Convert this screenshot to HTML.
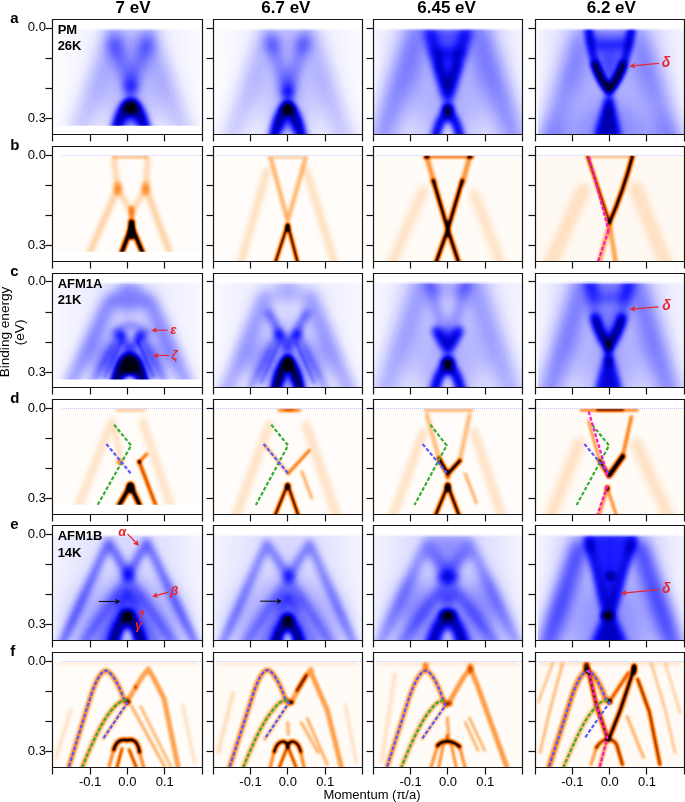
<!DOCTYPE html>
<html><head><meta charset="utf-8"><style>
html,body{margin:0;padding:0;background:#fff;width:685px;height:802px;overflow:hidden}
svg{display:block}
text{font-family:"Liberation Sans",sans-serif}
</style></head><body>
<svg xmlns="http://www.w3.org/2000/svg" width="685" height="802" viewBox="0 0 685 802">
<defs>
<filter id="cmB" x="-200" y="-200" width="600" height="600" filterUnits="userSpaceOnUse" color-interpolation-filters="sRGB">
<feComponentTransfer><feFuncR type="table" tableValues="1 0.93 0.82 0.67 0.49 0.29 0.1 0 0 0 0"/><feFuncG type="table" tableValues="1 0.93 0.82 0.67 0.49 0.29 0.1 0 0 0 0"/><feFuncB type="table" tableValues="1 1 1 1 1 1 1 0.8 0.5 0.15 0"/></feComponentTransfer></filter>
<filter id="cmO" x="-200" y="-200" width="600" height="600" filterUnits="userSpaceOnUse" color-interpolation-filters="sRGB">
<feComponentTransfer><feFuncR type="table" tableValues="1 1 1 1 1 0.99 0.93 0.8 0.55 0.25 0"/><feFuncG type="table" tableValues="1 0.9 0.8 0.7 0.6 0.52 0.42 0.32 0.2 0.08 0"/><feFuncB type="table" tableValues="1 0.8 0.6 0.42 0.26 0.14 0.05 0 0 0 0"/></feComponentTransfer></filter>
<linearGradient id="g1" x1="0" y1="0" x2="1" y2="0"><stop offset="0" stop-color="#fff" stop-opacity="0"/><stop offset="0.2" stop-color="#fff" stop-opacity="0.05"/><stop offset="0.4" stop-color="#fff" stop-opacity="0.12"/><stop offset="0.52" stop-color="#fff" stop-opacity="0.15"/><stop offset="0.65" stop-color="#fff" stop-opacity="0.12"/><stop offset="0.85" stop-color="#fff" stop-opacity="0.05"/><stop offset="1" stop-color="#fff" stop-opacity="0.02"/></linearGradient>
<filter id="b12" x="-200" y="-200" width="600" height="600" filterUnits="userSpaceOnUse"><feGaussianBlur stdDeviation="12"/></filter>
<filter id="b8" x="-200" y="-200" width="600" height="600" filterUnits="userSpaceOnUse"><feGaussianBlur stdDeviation="8"/></filter>
<filter id="b9" x="-200" y="-200" width="600" height="600" filterUnits="userSpaceOnUse"><feGaussianBlur stdDeviation="9"/></filter>
<filter id="b6" x="-200" y="-200" width="600" height="600" filterUnits="userSpaceOnUse"><feGaussianBlur stdDeviation="6"/></filter>
<filter id="b4" x="-200" y="-200" width="600" height="600" filterUnits="userSpaceOnUse"><feGaussianBlur stdDeviation="4"/></filter>
<filter id="b3" x="-200" y="-200" width="600" height="600" filterUnits="userSpaceOnUse"><feGaussianBlur stdDeviation="3"/></filter>
<filter id="b2_5" x="-200" y="-200" width="600" height="600" filterUnits="userSpaceOnUse"><feGaussianBlur stdDeviation="2.5"/></filter>
<clipPath id="c1"><rect x="1" y="8.6" width="146.3" height="97.7"/></clipPath>
<linearGradient id="g2" x1="0" y1="0" x2="0" y2="1"><stop offset="0" stop-color="#fff" stop-opacity="1"/><stop offset="1" stop-color="#fff" stop-opacity="0"/></linearGradient>
<linearGradient id="g3" x1="0" y1="0" x2="1" y2="0"><stop offset="0" stop-color="#fff" stop-opacity="0"/><stop offset="0.2" stop-color="#fff" stop-opacity="0.05"/><stop offset="0.4" stop-color="#fff" stop-opacity="0.12"/><stop offset="0.5" stop-color="#fff" stop-opacity="0.15"/><stop offset="0.62" stop-color="#fff" stop-opacity="0.12"/><stop offset="0.85" stop-color="#fff" stop-opacity="0.05"/><stop offset="1" stop-color="#fff" stop-opacity="0.02"/></linearGradient>
<filter id="b5_5" x="-200" y="-200" width="600" height="600" filterUnits="userSpaceOnUse"><feGaussianBlur stdDeviation="5.5"/></filter>
<filter id="b3_5" x="-200" y="-200" width="600" height="600" filterUnits="userSpaceOnUse"><feGaussianBlur stdDeviation="3.5"/></filter>
<clipPath id="c2"><rect x="0.5" y="8.6" width="148.5" height="106.1"/></clipPath>
<linearGradient id="g4" x1="0" y1="0" x2="0" y2="1"><stop offset="0" stop-color="#fff" stop-opacity="1"/><stop offset="1" stop-color="#fff" stop-opacity="0"/></linearGradient>
<linearGradient id="g5" x1="0" y1="0" x2="1" y2="0"><stop offset="0" stop-color="#fff" stop-opacity="0.03"/><stop offset="0.1" stop-color="#fff" stop-opacity="0.1"/><stop offset="0.3" stop-color="#fff" stop-opacity="0.18"/><stop offset="0.5" stop-color="#fff" stop-opacity="0.2"/><stop offset="0.7" stop-color="#fff" stop-opacity="0.18"/><stop offset="0.9" stop-color="#fff" stop-opacity="0.1"/><stop offset="1" stop-color="#fff" stop-opacity="0.04"/></linearGradient>
<filter id="b4_5" x="-200" y="-200" width="600" height="600" filterUnits="userSpaceOnUse"><feGaussianBlur stdDeviation="4.5"/></filter>
<clipPath id="c3"><rect x="0.5" y="8.6" width="148.5" height="106.1"/></clipPath>
<linearGradient id="g6" x1="0" y1="0" x2="0" y2="1"><stop offset="0" stop-color="#fff" stop-opacity="1"/><stop offset="1" stop-color="#fff" stop-opacity="0"/></linearGradient>
<linearGradient id="g7" x1="0" y1="0" x2="1" y2="0"><stop offset="0" stop-color="#fff" stop-opacity="0.02"/><stop offset="0.1" stop-color="#fff" stop-opacity="0.1"/><stop offset="0.3" stop-color="#fff" stop-opacity="0.18"/><stop offset="0.5" stop-color="#fff" stop-opacity="0.2"/><stop offset="0.7" stop-color="#fff" stop-opacity="0.18"/><stop offset="0.9" stop-color="#fff" stop-opacity="0.1"/><stop offset="1" stop-color="#fff" stop-opacity="0.04"/></linearGradient>
<clipPath id="c4"><rect x="2.6" y="8.6" width="146.4" height="106.1"/></clipPath>
<linearGradient id="g8" x1="0" y1="0" x2="0" y2="1"><stop offset="0" stop-color="#fff" stop-opacity="1"/><stop offset="1" stop-color="#fff" stop-opacity="0"/></linearGradient>
<linearGradient id="g9" x1="0" y1="0" x2="1" y2="0"><stop offset="0" stop-color="#fff" stop-opacity="0.02"/><stop offset="0.2" stop-color="#fff" stop-opacity="0.08"/><stop offset="0.5" stop-color="#fff" stop-opacity="0.16"/><stop offset="0.8" stop-color="#fff" stop-opacity="0.08"/><stop offset="1" stop-color="#fff" stop-opacity="0.03"/></linearGradient>
<filter id="b1_5" x="-200" y="-200" width="600" height="600" filterUnits="userSpaceOnUse"><feGaussianBlur stdDeviation="1.5"/></filter>
<filter id="b2" x="-200" y="-200" width="600" height="600" filterUnits="userSpaceOnUse"><feGaussianBlur stdDeviation="2"/></filter>
<clipPath id="c5"><rect x="1" y="8.6" width="146.3" height="97.7"/></clipPath>
<linearGradient id="g10" x1="0" y1="0" x2="0" y2="1"><stop offset="0" stop-color="#fff" stop-opacity="1"/><stop offset="1" stop-color="#fff" stop-opacity="0"/></linearGradient>
<linearGradient id="g11" x1="0" y1="0" x2="1" y2="0"><stop offset="0" stop-color="#fff" stop-opacity="0.02"/><stop offset="0.2" stop-color="#fff" stop-opacity="0.08"/><stop offset="0.5" stop-color="#fff" stop-opacity="0.15"/><stop offset="0.8" stop-color="#fff" stop-opacity="0.08"/><stop offset="1" stop-color="#fff" stop-opacity="0.03"/></linearGradient>
<clipPath id="c6"><rect x="0.5" y="8.6" width="148.5" height="106.1"/></clipPath>
<linearGradient id="g12" x1="0" y1="0" x2="0" y2="1"><stop offset="0" stop-color="#fff" stop-opacity="1"/><stop offset="1" stop-color="#fff" stop-opacity="0"/></linearGradient>
<linearGradient id="g13" x1="0" y1="0" x2="1" y2="0"><stop offset="0" stop-color="#fff" stop-opacity="0.03"/><stop offset="0.15" stop-color="#fff" stop-opacity="0.1"/><stop offset="0.35" stop-color="#fff" stop-opacity="0.17"/><stop offset="0.5" stop-color="#fff" stop-opacity="0.2"/><stop offset="0.65" stop-color="#fff" stop-opacity="0.17"/><stop offset="0.85" stop-color="#fff" stop-opacity="0.1"/><stop offset="1" stop-color="#fff" stop-opacity="0.04"/></linearGradient>
<filter id="b5" x="-200" y="-200" width="600" height="600" filterUnits="userSpaceOnUse"><feGaussianBlur stdDeviation="5"/></filter>
<clipPath id="c7"><rect x="0.5" y="8.6" width="148.5" height="106.1"/></clipPath>
<linearGradient id="g14" x1="0" y1="0" x2="0" y2="1"><stop offset="0" stop-color="#fff" stop-opacity="1"/><stop offset="1" stop-color="#fff" stop-opacity="0"/></linearGradient>
<linearGradient id="g15" x1="0" y1="0" x2="1" y2="0"><stop offset="0" stop-color="#fff" stop-opacity="0.03"/><stop offset="0.15" stop-color="#fff" stop-opacity="0.12"/><stop offset="0.35" stop-color="#fff" stop-opacity="0.18"/><stop offset="0.5" stop-color="#fff" stop-opacity="0.22"/><stop offset="0.65" stop-color="#fff" stop-opacity="0.18"/><stop offset="0.85" stop-color="#fff" stop-opacity="0.12"/><stop offset="1" stop-color="#fff" stop-opacity="0.05"/></linearGradient>
<clipPath id="c8"><rect x="2.6" y="8.6" width="146.4" height="106.1"/></clipPath>
<linearGradient id="g16" x1="0" y1="0" x2="0" y2="1"><stop offset="0" stop-color="#fff" stop-opacity="1"/><stop offset="1" stop-color="#fff" stop-opacity="0"/></linearGradient>
<linearGradient id="g17" x1="0" y1="0" x2="1" y2="0"><stop offset="0" stop-color="#fff" stop-opacity="0.06"/><stop offset="0.2" stop-color="#fff" stop-opacity="0.12"/><stop offset="0.5" stop-color="#fff" stop-opacity="0.18"/><stop offset="0.8" stop-color="#fff" stop-opacity="0.12"/><stop offset="1" stop-color="#fff" stop-opacity="0.04"/></linearGradient>
<filter id="b15" x="-200" y="-200" width="600" height="600" filterUnits="userSpaceOnUse"><feGaussianBlur stdDeviation="15"/></filter>
<clipPath id="c9"><rect x="0.5" y="8.6" width="148.5" height="106.1"/></clipPath>
<linearGradient id="g18" x1="0" y1="0" x2="0" y2="1"><stop offset="0" stop-color="#fff" stop-opacity="1"/><stop offset="1" stop-color="#fff" stop-opacity="0"/></linearGradient>
<linearGradient id="g19" x1="0" y1="0" x2="1" y2="0"><stop offset="0" stop-color="#fff" stop-opacity="0.06"/><stop offset="0.2" stop-color="#fff" stop-opacity="0.12"/><stop offset="0.5" stop-color="#fff" stop-opacity="0.18"/><stop offset="0.8" stop-color="#fff" stop-opacity="0.12"/><stop offset="1" stop-color="#fff" stop-opacity="0.04"/></linearGradient>
<clipPath id="c10"><rect x="0.5" y="8.6" width="148.5" height="106.1"/></clipPath>
<linearGradient id="g20" x1="0" y1="0" x2="0" y2="1"><stop offset="0" stop-color="#fff" stop-opacity="1"/><stop offset="1" stop-color="#fff" stop-opacity="0"/></linearGradient>
<linearGradient id="g21" x1="0" y1="0" x2="1" y2="0"><stop offset="0" stop-color="#fff" stop-opacity="0.06"/><stop offset="0.2" stop-color="#fff" stop-opacity="0.13"/><stop offset="0.5" stop-color="#fff" stop-opacity="0.2"/><stop offset="0.8" stop-color="#fff" stop-opacity="0.13"/><stop offset="1" stop-color="#fff" stop-opacity="0.05"/></linearGradient>
<clipPath id="c11"><rect x="0.5" y="8.6" width="148.5" height="106.1"/></clipPath>
<linearGradient id="g22" x1="0" y1="0" x2="0" y2="1"><stop offset="0" stop-color="#fff" stop-opacity="1"/><stop offset="1" stop-color="#fff" stop-opacity="0"/></linearGradient>
<linearGradient id="g23" x1="0" y1="0" x2="1" y2="0"><stop offset="0" stop-color="#fff" stop-opacity="0.04"/><stop offset="0.15" stop-color="#fff" stop-opacity="0.13"/><stop offset="0.35" stop-color="#fff" stop-opacity="0.22"/><stop offset="0.5" stop-color="#fff" stop-opacity="0.27"/><stop offset="0.65" stop-color="#fff" stop-opacity="0.22"/><stop offset="0.85" stop-color="#fff" stop-opacity="0.13"/><stop offset="1" stop-color="#fff" stop-opacity="0.05"/></linearGradient>
<filter id="b7" x="-200" y="-200" width="600" height="600" filterUnits="userSpaceOnUse"><feGaussianBlur stdDeviation="7"/></filter>
<clipPath id="c12"><rect x="2.6" y="8.6" width="146.4" height="106.1"/></clipPath>
<linearGradient id="g24" x1="0" y1="0" x2="0" y2="1"><stop offset="0" stop-color="#fff" stop-opacity="1"/><stop offset="1" stop-color="#fff" stop-opacity="0"/></linearGradient>
<filter id="b1_3" x="-200" y="-200" width="600" height="600" filterUnits="userSpaceOnUse"><feGaussianBlur stdDeviation="1.3"/></filter>
<filter id="b1" x="-200" y="-200" width="600" height="600" filterUnits="userSpaceOnUse"><feGaussianBlur stdDeviation="1"/></filter>
<filter id="b1_2" x="-200" y="-200" width="600" height="600" filterUnits="userSpaceOnUse"><feGaussianBlur stdDeviation="1.2"/></filter>
<clipPath id="c13"><rect x="1" y="9" width="146.3" height="96.2"/></clipPath>
<filter id="b1_6" x="-200" y="-200" width="600" height="600" filterUnits="userSpaceOnUse"><feGaussianBlur stdDeviation="1.6"/></filter>
<filter id="b0_8" x="-200" y="-200" width="600" height="600" filterUnits="userSpaceOnUse"><feGaussianBlur stdDeviation="0.8"/></filter>
<clipPath id="c14"><rect x="0.5" y="9" width="148.5" height="105.7"/></clipPath>
<clipPath id="c15"><rect x="0.5" y="9" width="148.5" height="105.7"/></clipPath>
<clipPath id="c16"><rect x="0.5" y="9" width="148.5" height="105.7"/></clipPath>
<clipPath id="c17"><rect x="1" y="9" width="146.3" height="96.2"/></clipPath>
<clipPath id="c18"><rect x="0.5" y="9" width="148.5" height="105.7"/></clipPath>
<clipPath id="c19"><rect x="0.5" y="9" width="148.5" height="105.7"/></clipPath>
<clipPath id="c20"><rect x="0.5" y="9" width="148.5" height="105.7"/></clipPath>
<clipPath id="c21"><rect x="0.5" y="9" width="148.5" height="105.7"/></clipPath>
<clipPath id="c22"><rect x="0.5" y="9" width="148.5" height="105.7"/></clipPath>
<clipPath id="c23"><rect x="0.5" y="9" width="148.5" height="105.7"/></clipPath>
<filter id="b1_1" x="-200" y="-200" width="600" height="600" filterUnits="userSpaceOnUse"><feGaussianBlur stdDeviation="1.1"/></filter>
<clipPath id="c24"><rect x="0.5" y="9" width="148.5" height="105.7"/></clipPath>
</defs>
<rect width="685" height="802" fill="#fff"/>
<g transform="translate(52.75,19.36)"><g clip-path="url(#c1)"><g filter="url(#cmB)"><rect x="-20" y="-20" width="190" height="160" fill="#000"/><rect x="-5" y="0" width="160" height="130" fill="url(#g1)"/><ellipse cx="78" cy="75" rx="32" ry="40" fill="#fff" fill-opacity="0.15" filter="url(#b12)"/><path d="M61,16 L25,112" fill="none" stroke="#fff" stroke-width="22" stroke-opacity="0.2" stroke-linecap="round" stroke-linejoin="round" filter="url(#b8)"/><path d="M95,16 L131,112" fill="none" stroke="#fff" stroke-width="22" stroke-opacity="0.2" stroke-linecap="round" stroke-linejoin="round" filter="url(#b8)"/><ellipse cx="77" cy="28" rx="20" ry="18" fill="#fff" fill-opacity="0.14" filter="url(#b9)"/><path d="M62,26 L78,67" fill="none" stroke="#fff" stroke-width="13" stroke-opacity="0.24" stroke-linecap="round" stroke-linejoin="round" filter="url(#b6)"/><path d="M94,26 L78,67" fill="none" stroke="#fff" stroke-width="13" stroke-opacity="0.24" stroke-linecap="round" stroke-linejoin="round" filter="url(#b6)"/><path d="M59,12 L62,26" fill="none" stroke="#fff" stroke-width="12" stroke-opacity="0.12" stroke-linecap="round" stroke-linejoin="round" filter="url(#b6)"/><path d="M97,12 L94,26" fill="none" stroke="#fff" stroke-width="12" stroke-opacity="0.12" stroke-linecap="round" stroke-linejoin="round" filter="url(#b6)"/><ellipse cx="78" cy="70" rx="5" ry="9" fill="#fff" fill-opacity="0.3" filter="url(#b4)"/><path d="M63,111 Q78,58 93,111" fill="none" stroke="#fff" stroke-width="11" stroke-opacity="0.66" stroke-linecap="round" stroke-linejoin="round" filter="url(#b3)"/><ellipse cx="78" cy="100" rx="10" ry="10" fill="#fff" fill-opacity="0.35" filter="url(#b4)"/><ellipse cx="78" cy="89" rx="7" ry="7" fill="#fff" fill-opacity="1" filter="url(#b3)"/><ellipse cx="78" cy="106" rx="3" ry="4" fill="#000" fill-opacity="0.22" filter="url(#b2_5)"/></g></g><rect x="1" y="8.6" width="146.3" height="3" fill="url(#g2)"/></g>
<g transform="translate(213.2,19.36)"><g clip-path="url(#c2)"><g filter="url(#cmB)"><rect x="-20" y="-20" width="190" height="160" fill="#000"/><rect x="-5" y="0" width="160" height="130" fill="url(#g3)"/><ellipse cx="75" cy="78" rx="32" ry="40" fill="#fff" fill-opacity="0.14" filter="url(#b12)"/><path d="M53,18 L17,120" fill="none" stroke="#fff" stroke-width="22" stroke-opacity="0.2" stroke-linecap="round" stroke-linejoin="round" filter="url(#b8)"/><path d="M97,18 L132,120" fill="none" stroke="#fff" stroke-width="22" stroke-opacity="0.2" stroke-linecap="round" stroke-linejoin="round" filter="url(#b8)"/><ellipse cx="75" cy="22" rx="20" ry="16" fill="#fff" fill-opacity="0.14" filter="url(#b8)"/><path d="M59,25 L74.5,74" fill="none" stroke="#fff" stroke-width="12" stroke-opacity="0.26" stroke-linecap="round" stroke-linejoin="round" filter="url(#b5_5)"/><path d="M90,25 L74.5,74" fill="none" stroke="#fff" stroke-width="12" stroke-opacity="0.26" stroke-linecap="round" stroke-linejoin="round" filter="url(#b5_5)"/><path d="M56,12 L59,25" fill="none" stroke="#fff" stroke-width="11" stroke-opacity="0.14" stroke-linecap="round" stroke-linejoin="round" filter="url(#b6)"/><path d="M93,12 L90,25" fill="none" stroke="#fff" stroke-width="11" stroke-opacity="0.14" stroke-linecap="round" stroke-linejoin="round" filter="url(#b6)"/><ellipse cx="74.5" cy="74" rx="5" ry="8" fill="#fff" fill-opacity="0.3" filter="url(#b3_5)"/><path d="M60.5,118 Q74.5,60 88.5,118" fill="none" stroke="#fff" stroke-width="11" stroke-opacity="0.68" stroke-linecap="round" stroke-linejoin="round" filter="url(#b3)"/><ellipse cx="74.5" cy="105" rx="10" ry="10" fill="#fff" fill-opacity="0.32" filter="url(#b4)"/><ellipse cx="74.5" cy="89.5" rx="6" ry="7" fill="#fff" fill-opacity="1" filter="url(#b3)"/><ellipse cx="74.5" cy="112" rx="3" ry="6" fill="#000" fill-opacity="0.25" filter="url(#b2_5)"/></g></g><rect x="0.5" y="8.6" width="148.5" height="3" fill="url(#g4)"/></g>
<g transform="translate(373.3,19.36)"><g clip-path="url(#c3)"><g filter="url(#cmB)"><rect x="-20" y="-20" width="190" height="160" fill="#000"/><rect x="-5" y="0" width="160" height="130" fill="url(#g5)"/><path d="M44,12 L6,122" fill="none" stroke="#fff" stroke-width="26" stroke-opacity="0.3" stroke-linecap="round" stroke-linejoin="round" filter="url(#b9)"/><path d="M105,12 L143,122" fill="none" stroke="#fff" stroke-width="26" stroke-opacity="0.3" stroke-linecap="round" stroke-linejoin="round" filter="url(#b9)"/><ellipse cx="75" cy="70" rx="40" ry="45" fill="#fff" fill-opacity="0.12" filter="url(#b12)"/><path d="M50,8 L100,8 L92,40 L57,40 Z" fill="#fff" fill-opacity="0.35" filter="url(#b4_5)"/><path d="M57,30 L92,30 L74.5,75 Z" fill="#fff" fill-opacity="0.3" filter="url(#b4_5)"/><path d="M57,14 L74.5,78 L92,14" fill="none" stroke="#fff" stroke-width="9" stroke-opacity="0.35" stroke-linecap="round" stroke-linejoin="round" filter="url(#b4)"/><path d="M64,45 L74.5,78 L85,45" fill="none" stroke="#fff" stroke-width="9" stroke-opacity="0.4" stroke-linecap="round" stroke-linejoin="round" filter="url(#b3_5)"/><ellipse cx="74.5" cy="90" rx="5" ry="6" fill="#fff" fill-opacity="1" filter="url(#b3)"/><path d="M61,122 Q74.5,68 88,122" fill="none" stroke="#fff" stroke-width="9" stroke-opacity="0.62" stroke-linecap="round" stroke-linejoin="round" filter="url(#b3)"/><ellipse cx="74.5" cy="113" rx="4" ry="8" fill="#000" fill-opacity="0.3" filter="url(#b3)"/></g></g><rect x="0.5" y="8.6" width="148.5" height="3" fill="url(#g6)"/></g>
<g transform="translate(535.06,19.36)"><g clip-path="url(#c4)"><g filter="url(#cmB)"><rect x="-20" y="-20" width="190" height="160" fill="#000"/><rect x="-5" y="0" width="160" height="130" fill="url(#g7)"/><ellipse cx="75" cy="70" rx="40" ry="45" fill="#fff" fill-opacity="0.12" filter="url(#b12)"/><path d="M46,18 L12,122" fill="none" stroke="#fff" stroke-width="22" stroke-opacity="0.27" stroke-linecap="round" stroke-linejoin="round" filter="url(#b9)"/><path d="M104,18 L138,122" fill="none" stroke="#fff" stroke-width="22" stroke-opacity="0.27" stroke-linecap="round" stroke-linejoin="round" filter="url(#b9)"/><ellipse cx="75" cy="122" rx="70" ry="30" fill="#fff" fill-opacity="0.18" filter="url(#b12)"/><path d="M50,8 L100,8 L93,30 L57,30 Z" fill="#fff" fill-opacity="0.22" filter="url(#b3_5)"/><path d="M56,20 L94,20 L74,68 Z" fill="#fff" fill-opacity="0.32" filter="url(#b4)"/><path d="M53.5,11 Q58,52 74,71 Q90,52 96.5,11" fill="none" stroke="#fff" stroke-width="8" stroke-opacity="0.5" stroke-linecap="round" stroke-linejoin="round" filter="url(#b2_5)"/><path d="M60,45 Q64,58 74,71 Q84,58 88,45" fill="none" stroke="#fff" stroke-width="7" stroke-opacity="0.75" stroke-linecap="round" stroke-linejoin="round" filter="url(#b2_5)"/><path d="M71,76 L77,76 L86,118 L59,118 Z" fill="#fff" fill-opacity="0.58" filter="url(#b3)"/><ellipse cx="74" cy="90" rx="3" ry="8" fill="#fff" fill-opacity="0.25" filter="url(#b3)"/></g></g><rect x="2.6" y="8.6" width="146.4" height="3" fill="url(#g8)"/></g>
<g transform="translate(52.75,273.1)"><g clip-path="url(#c5)"><g filter="url(#cmB)"><rect x="-20" y="-20" width="190" height="160" fill="#000"/><rect x="-5" y="0" width="160" height="130" fill="url(#g9)"/><ellipse cx="77" cy="80" rx="35" ry="35" fill="#fff" fill-opacity="0.15" filter="url(#b12)"/><ellipse cx="60" cy="88" rx="22" ry="20" fill="#fff" fill-opacity="0.2" filter="url(#b8)"/><ellipse cx="95" cy="88" rx="22" ry="20" fill="#fff" fill-opacity="0.16" filter="url(#b8)"/><ellipse cx="77" cy="24" rx="17" ry="15" fill="#fff" fill-opacity="0.28" filter="url(#b6)"/><path d="M57,28 L18,110" fill="none" stroke="#fff" stroke-width="16" stroke-opacity="0.3" stroke-linecap="round" stroke-linejoin="round" filter="url(#b6)"/><path d="M97,28 L134,110" fill="none" stroke="#fff" stroke-width="16" stroke-opacity="0.3" stroke-linecap="round" stroke-linejoin="round" filter="url(#b6)"/><ellipse cx="68" cy="61.5" rx="5.5" ry="3.5" fill="#fff" fill-opacity="0.3" filter="url(#b3)" transform="rotate(25 68 61.5)"/><ellipse cx="87.5" cy="62.5" rx="5.5" ry="3.5" fill="#fff" fill-opacity="0.3" filter="url(#b3)" transform="rotate(-25 87.5 62.5)"/><path d="M60,60 Q77,44 96,60" fill="none" stroke="#fff" stroke-width="6" stroke-opacity="0.22" stroke-linecap="round" stroke-linejoin="round" filter="url(#b3)"/><path d="M68,61 L40,108" fill="none" stroke="#fff" stroke-width="8" stroke-opacity="0.25" stroke-linecap="round" stroke-linejoin="round" filter="url(#b3_5)"/><path d="M87.5,62 L112,108" fill="none" stroke="#fff" stroke-width="8" stroke-opacity="0.25" stroke-linecap="round" stroke-linejoin="round" filter="url(#b3_5)"/><path d="M85,68 L101,104" fill="none" stroke="#fff" stroke-width="3" stroke-opacity="0.25" stroke-linecap="round" stroke-linejoin="round" filter="url(#b1_5)"/><path d="M69,68 L52,104" fill="none" stroke="#fff" stroke-width="3" stroke-opacity="0.18" stroke-linecap="round" stroke-linejoin="round" filter="url(#b1_5)"/><path d="M68,62 L77,78 L87.5,63" fill="none" stroke="#fff" stroke-width="6" stroke-opacity="0.3" stroke-linecap="round" stroke-linejoin="round" filter="url(#b3)"/><path d="M62.5,112 Q77,58 91.5,112" fill="none" stroke="#fff" stroke-width="11" stroke-opacity="0.75" stroke-linecap="round" stroke-linejoin="round" filter="url(#b2_5)"/><ellipse cx="77" cy="95" rx="8.5" ry="10" fill="#fff" fill-opacity="0.95" filter="url(#b3)"/><ellipse cx="77" cy="106" rx="3.5" ry="5" fill="#000" fill-opacity="0.45" filter="url(#b2)"/></g></g><rect x="1" y="8.6" width="146.3" height="3" fill="url(#g10)"/></g>
<g transform="translate(213.2,273.1)"><g clip-path="url(#c6)"><g filter="url(#cmB)"><rect x="-20" y="-20" width="190" height="160" fill="#000"/><rect x="-5" y="0" width="160" height="130" fill="url(#g11)"/><ellipse cx="75" cy="80" rx="35" ry="35" fill="#fff" fill-opacity="0.13" filter="url(#b12)"/><ellipse cx="74.5" cy="18" rx="14" ry="12" fill="#fff" fill-opacity="0.18" filter="url(#b6)"/><path d="M52,25 L12,120" fill="none" stroke="#fff" stroke-width="18" stroke-opacity="0.26" stroke-linecap="round" stroke-linejoin="round" filter="url(#b6)"/><path d="M97,25 L137,120" fill="none" stroke="#fff" stroke-width="18" stroke-opacity="0.26" stroke-linecap="round" stroke-linejoin="round" filter="url(#b6)"/><path d="M56,40 L74.5,76 L93,40" fill="none" stroke="#fff" stroke-width="8" stroke-opacity="0.36" stroke-linecap="round" stroke-linejoin="round" filter="url(#b3_5)"/><ellipse cx="65.7" cy="61.3" rx="6" ry="3.5" fill="#fff" fill-opacity="0.3" filter="url(#b3)" transform="rotate(40 65.7 61.3)"/><ellipse cx="84" cy="61.3" rx="6" ry="3.5" fill="#fff" fill-opacity="0.3" filter="url(#b3)" transform="rotate(-40 84 61.3)"/><path d="M65.7,61.3 L35,118" fill="none" stroke="#fff" stroke-width="7" stroke-opacity="0.22" stroke-linecap="round" stroke-linejoin="round" filter="url(#b3)"/><path d="M84,61.3 L114,118" fill="none" stroke="#fff" stroke-width="7" stroke-opacity="0.22" stroke-linecap="round" stroke-linejoin="round" filter="url(#b3)"/><path d="M83,70 L101,110" fill="none" stroke="#fff" stroke-width="3" stroke-opacity="0.2" stroke-linecap="round" stroke-linejoin="round" filter="url(#b1_5)"/><path d="M66,70 L48,110" fill="none" stroke="#fff" stroke-width="3" stroke-opacity="0.15" stroke-linecap="round" stroke-linejoin="round" filter="url(#b1_5)"/><ellipse cx="55" cy="92" rx="22" ry="24" fill="#fff" fill-opacity="0.2" filter="url(#b8)"/><ellipse cx="94" cy="92" rx="22" ry="24" fill="#fff" fill-opacity="0.17" filter="url(#b8)"/><path d="M61,122 Q74.5,60 88,122" fill="none" stroke="#fff" stroke-width="10" stroke-opacity="0.8" stroke-linecap="round" stroke-linejoin="round" filter="url(#b2_5)"/><ellipse cx="74.5" cy="108" rx="8" ry="10" fill="#fff" fill-opacity="0.3" filter="url(#b4)"/><ellipse cx="74.5" cy="90" rx="5.5" ry="8" fill="#fff" fill-opacity="1" filter="url(#b2_5)"/><ellipse cx="74.5" cy="112" rx="3" ry="6" fill="#000" fill-opacity="0.25" filter="url(#b2_5)"/></g></g><rect x="0.5" y="8.6" width="148.5" height="3" fill="url(#g12)"/></g>
<g transform="translate(373.3,273.1)"><g clip-path="url(#c7)"><g filter="url(#cmB)"><rect x="-20" y="-20" width="190" height="160" fill="#000"/><rect x="-5" y="0" width="160" height="130" fill="url(#g13)"/><ellipse cx="75" cy="85" rx="40" ry="35" fill="#fff" fill-opacity="0.12" filter="url(#b12)"/><path d="M51,6 L8,124" fill="none" stroke="#fff" stroke-width="22" stroke-opacity="0.26" stroke-linecap="round" stroke-linejoin="round" filter="url(#b9)"/><path d="M98,6 L141,124" fill="none" stroke="#fff" stroke-width="22" stroke-opacity="0.26" stroke-linecap="round" stroke-linejoin="round" filter="url(#b9)"/><path d="M53,8 L97,8 L92,25 L58,25 Z" fill="#fff" fill-opacity="0.12" filter="url(#b5)"/><path d="M56,8 L74.5,76 L93,8" fill="none" stroke="#fff" stroke-width="11" stroke-opacity="0.2" stroke-linecap="round" stroke-linejoin="round" filter="url(#b5)"/><path d="M63,58 L74.5,76 L86,58" fill="none" stroke="#fff" stroke-width="9" stroke-opacity="0.5" stroke-linecap="round" stroke-linejoin="round" filter="url(#b3)"/><ellipse cx="74.5" cy="62" rx="10" ry="5" fill="#fff" fill-opacity="0.25" filter="url(#b4)"/><ellipse cx="74.5" cy="90" rx="6" ry="7" fill="#fff" fill-opacity="1" filter="url(#b3)"/><path d="M60,122 Q74.5,66 89,122" fill="none" stroke="#fff" stroke-width="10" stroke-opacity="0.62" stroke-linecap="round" stroke-linejoin="round" filter="url(#b3)"/><ellipse cx="74.5" cy="112" rx="5" ry="8" fill="#000" fill-opacity="0.3" filter="url(#b3)"/></g></g><rect x="0.5" y="8.6" width="148.5" height="3" fill="url(#g14)"/></g>
<g transform="translate(535.06,273.1)"><g clip-path="url(#c8)"><g filter="url(#cmB)"><rect x="-20" y="-20" width="190" height="160" fill="#000"/><rect x="-5" y="0" width="160" height="130" fill="url(#g15)"/><ellipse cx="75" cy="85" rx="40" ry="35" fill="#fff" fill-opacity="0.12" filter="url(#b12)"/><path d="M50,6 L11,124" fill="none" stroke="#fff" stroke-width="22" stroke-opacity="0.34" stroke-linecap="round" stroke-linejoin="round" filter="url(#b9)"/><path d="M99,6 L137,124" fill="none" stroke="#fff" stroke-width="22" stroke-opacity="0.34" stroke-linecap="round" stroke-linejoin="round" filter="url(#b9)"/><path d="M51,8 L99,8 L93,28 L57,28 Z" fill="#fff" fill-opacity="0.25" filter="url(#b4_5)"/><path d="M58,22 L92,22 L74,66 Z" fill="#fff" fill-opacity="0.22" filter="url(#b4_5)"/><path d="M55,10 Q59,52 73.5,73 Q88,52 94,10" fill="none" stroke="#fff" stroke-width="10" stroke-opacity="0.3" stroke-linecap="round" stroke-linejoin="round" filter="url(#b4)"/><path d="M60,45 Q64,60 73.5,73 Q83,60 87,45" fill="none" stroke="#fff" stroke-width="8" stroke-opacity="0.72" stroke-linecap="round" stroke-linejoin="round" filter="url(#b3)"/><ellipse cx="73.5" cy="74" rx="3.5" ry="6" fill="#fff" fill-opacity="0.6" filter="url(#b2)"/><path d="M71,77 L76,77 L88,120 L59,120 Z" fill="#fff" fill-opacity="0.55" filter="url(#b3)"/><ellipse cx="73.5" cy="88" rx="3" ry="6" fill="#fff" fill-opacity="0.45" filter="url(#b2_5)"/></g></g><rect x="2.6" y="8.6" width="146.4" height="3" fill="url(#g16)"/></g>
<g transform="translate(52.75,525.6)"><g clip-path="url(#c9)"><g filter="url(#cmB)"><rect x="-20" y="-20" width="190" height="160" fill="#000"/><rect x="-5" y="0" width="160" height="130" fill="url(#g17)"/><ellipse cx="75" cy="100" rx="62" ry="45" fill="#fff" fill-opacity="0.22" filter="url(#b15)"/><path d="M9,118 L55.8,16 L75.5,50" fill="none" stroke="#fff" stroke-width="9" stroke-opacity="0.36" stroke-linecap="round" stroke-linejoin="round" filter="url(#b3_5)"/><path d="M143,118 L94,16 L75.5,50" fill="none" stroke="#fff" stroke-width="9" stroke-opacity="0.36" stroke-linecap="round" stroke-linejoin="round" filter="url(#b3_5)"/><ellipse cx="75.5" cy="50" rx="8" ry="7" fill="#fff" fill-opacity="0.12" filter="url(#b3_5)"/><path d="M72,57 L30,118" fill="none" stroke="#fff" stroke-width="9" stroke-opacity="0.28" stroke-linecap="round" stroke-linejoin="round" filter="url(#b4)"/><path d="M79,57 L121,118" fill="none" stroke="#fff" stroke-width="9" stroke-opacity="0.28" stroke-linecap="round" stroke-linejoin="round" filter="url(#b4)"/><path d="M75,66 L46,118" fill="none" stroke="#fff" stroke-width="6" stroke-opacity="0.2" stroke-linecap="round" stroke-linejoin="round" filter="url(#b3)"/><path d="M75,66 L104,118" fill="none" stroke="#fff" stroke-width="6" stroke-opacity="0.2" stroke-linecap="round" stroke-linejoin="round" filter="url(#b3)"/><ellipse cx="75" cy="76" rx="12" ry="9" fill="#fff" fill-opacity="0.25" filter="url(#b6)"/><path d="M58,124 Q74.5,62 91,124" fill="none" stroke="#fff" stroke-width="12" stroke-opacity="0.7" stroke-linecap="round" stroke-linejoin="round" filter="url(#b3)"/><ellipse cx="74.5" cy="90" rx="7" ry="6" fill="#fff" fill-opacity="1" filter="url(#b3)"/><ellipse cx="74.5" cy="112" rx="4" ry="7" fill="#000" fill-opacity="0.35" filter="url(#b2_5)"/></g></g><rect x="0.5" y="8.6" width="148.5" height="3" fill="url(#g18)"/></g>
<g transform="translate(213.2,525.6)"><g clip-path="url(#c10)"><g filter="url(#cmB)"><rect x="-20" y="-20" width="190" height="160" fill="#000"/><rect x="-5" y="0" width="160" height="130" fill="url(#g19)"/><ellipse cx="75" cy="100" rx="62" ry="45" fill="#fff" fill-opacity="0.2" filter="url(#b15)"/><path d="M9,118 L53.6,17.5 L75.5,51.5" fill="none" stroke="#fff" stroke-width="9" stroke-opacity="0.3" stroke-linecap="round" stroke-linejoin="round" filter="url(#b3_5)"/><path d="M141,118 L96.3,17.5 L75.5,51.5" fill="none" stroke="#fff" stroke-width="9" stroke-opacity="0.3" stroke-linecap="round" stroke-linejoin="round" filter="url(#b3_5)"/><ellipse cx="75.5" cy="51.5" rx="8" ry="7" fill="#fff" fill-opacity="0.12" filter="url(#b3_5)"/><path d="M72,59 L32,118" fill="none" stroke="#fff" stroke-width="9" stroke-opacity="0.26" stroke-linecap="round" stroke-linejoin="round" filter="url(#b4)"/><path d="M79,59 L118,118" fill="none" stroke="#fff" stroke-width="9" stroke-opacity="0.26" stroke-linecap="round" stroke-linejoin="round" filter="url(#b4)"/><path d="M75,70 L48,118" fill="none" stroke="#fff" stroke-width="6" stroke-opacity="0.18" stroke-linecap="round" stroke-linejoin="round" filter="url(#b3)"/><path d="M75,70 L102,118" fill="none" stroke="#fff" stroke-width="6" stroke-opacity="0.18" stroke-linecap="round" stroke-linejoin="round" filter="url(#b3)"/><ellipse cx="75" cy="78" rx="12" ry="9" fill="#fff" fill-opacity="0.22" filter="url(#b6)"/><path d="M60,126 Q74.5,70 89,126" fill="none" stroke="#fff" stroke-width="12" stroke-opacity="0.7" stroke-linecap="round" stroke-linejoin="round" filter="url(#b3)"/><ellipse cx="74.5" cy="94" rx="6" ry="6" fill="#fff" fill-opacity="1" filter="url(#b3)"/><ellipse cx="74.5" cy="113" rx="4" ry="7" fill="#000" fill-opacity="0.35" filter="url(#b2_5)"/></g></g><rect x="0.5" y="8.6" width="148.5" height="3" fill="url(#g20)"/></g>
<g transform="translate(373.3,525.6)"><g clip-path="url(#c11)"><g filter="url(#cmB)"><rect x="-20" y="-20" width="190" height="160" fill="#000"/><rect x="-5" y="0" width="160" height="130" fill="url(#g21)"/><ellipse cx="75" cy="100" rx="62" ry="45" fill="#fff" fill-opacity="0.22" filter="url(#b15)"/><path d="M6,118 L52.5,19.7 L74.5,52" fill="none" stroke="#fff" stroke-width="11" stroke-opacity="0.28" stroke-linecap="round" stroke-linejoin="round" filter="url(#b5)"/><path d="M144,118 L97.4,19.7 L74.5,52" fill="none" stroke="#fff" stroke-width="11" stroke-opacity="0.28" stroke-linecap="round" stroke-linejoin="round" filter="url(#b5)"/><path d="M50,10 L100,10 L76,52 L73,52 Z" fill="#fff" fill-opacity="0.2" filter="url(#b5)"/><ellipse cx="40" cy="75" rx="14" ry="25" fill="#fff" fill-opacity="0.1" filter="url(#b8)"/><ellipse cx="110" cy="75" rx="14" ry="25" fill="#fff" fill-opacity="0.1" filter="url(#b8)"/><ellipse cx="74.5" cy="51.5" rx="12" ry="5.5" fill="#fff" fill-opacity="0.3" filter="url(#b3_5)"/><path d="M70,59 L28,118" fill="none" stroke="#fff" stroke-width="9" stroke-opacity="0.25" stroke-linecap="round" stroke-linejoin="round" filter="url(#b4)"/><path d="M79,59 L122,118" fill="none" stroke="#fff" stroke-width="9" stroke-opacity="0.25" stroke-linecap="round" stroke-linejoin="round" filter="url(#b4)"/><ellipse cx="74.5" cy="72" rx="8" ry="8" fill="#fff" fill-opacity="0.3" filter="url(#b5)"/><path d="M57,124 Q74.5,62 92,124" fill="none" stroke="#fff" stroke-width="12" stroke-opacity="0.62" stroke-linecap="round" stroke-linejoin="round" filter="url(#b3_5)"/><ellipse cx="74.5" cy="89.5" rx="8" ry="5" fill="#fff" fill-opacity="1" filter="url(#b3)"/><ellipse cx="74.5" cy="113" rx="4" ry="7" fill="#000" fill-opacity="0.3" filter="url(#b2_5)"/></g></g><rect x="0.5" y="8.6" width="148.5" height="3" fill="url(#g22)"/></g>
<g transform="translate(535.06,525.6)"><g clip-path="url(#c12)"><g filter="url(#cmB)"><rect x="-20" y="-20" width="190" height="160" fill="#000"/><rect x="-5" y="0" width="160" height="130" fill="url(#g23)"/><ellipse cx="75" cy="100" rx="62" ry="45" fill="#fff" fill-opacity="0.15" filter="url(#b15)"/><path d="M44,22 L10,122" fill="none" stroke="#fff" stroke-width="20" stroke-opacity="0.4" stroke-linecap="round" stroke-linejoin="round" filter="url(#b7)"/><path d="M105,22 L140,122" fill="none" stroke="#fff" stroke-width="20" stroke-opacity="0.4" stroke-linecap="round" stroke-linejoin="round" filter="url(#b7)"/><path d="M50,8 L101,8 L78,86 L70,86 Z" fill="#fff" fill-opacity="0.45" filter="url(#b3_5)"/><path d="M52.5,14 L70,85" fill="none" stroke="#fff" stroke-width="7" stroke-opacity="0.4" stroke-linecap="round" stroke-linejoin="round" filter="url(#b3)"/><path d="M98.5,14 L77.7,85" fill="none" stroke="#fff" stroke-width="7" stroke-opacity="0.4" stroke-linecap="round" stroke-linejoin="round" filter="url(#b3)"/><ellipse cx="54" cy="21" rx="6" ry="6" fill="#fff" fill-opacity="0.15" filter="url(#b3)"/><ellipse cx="97" cy="21" rx="6" ry="6" fill="#fff" fill-opacity="0.15" filter="url(#b3)"/><ellipse cx="75.5" cy="50.5" rx="4.5" ry="4" fill="#fff" fill-opacity="0.5" filter="url(#b2_5)"/><ellipse cx="72.5" cy="90" rx="6" ry="4" fill="#fff" fill-opacity="1" filter="url(#b2_5)"/><path d="M70,86 L78,86 L93,120 L55,120 Z" fill="#fff" fill-opacity="0.55" filter="url(#b3_5)"/></g></g><rect x="2.6" y="8.6" width="146.4" height="3" fill="url(#g24)"/></g>
<g transform="translate(52.75,146.46)"><g clip-path="url(#c13)"><g filter="url(#cmO)"><rect x="-20" y="-20" width="190" height="160" fill="#000"/><rect x="-5" y="0" width="160" height="130" fill="#fff" fill-opacity="0.012"/><path d="M61,10.8 L94,10.8" fill="none" stroke="#fff" stroke-width="2.5" stroke-opacity="0.28" stroke-linecap="round" stroke-linejoin="round" filter="url(#b1_3)"/><path d="M61,12 L65,42 L78.8,66" fill="none" stroke="#fff" stroke-width="5" stroke-opacity="0.17" stroke-linecap="round" stroke-linejoin="round" filter="url(#b2)"/><path d="M95,12 L93,42 L78.8,66" fill="none" stroke="#fff" stroke-width="5" stroke-opacity="0.17" stroke-linecap="round" stroke-linejoin="round" filter="url(#b2)"/><ellipse cx="65" cy="42" rx="4" ry="7" fill="#fff" fill-opacity="0.3" filter="url(#b2)"/><ellipse cx="93" cy="42" rx="4" ry="7" fill="#fff" fill-opacity="0.3" filter="url(#b2)"/><path d="M65,42 L37,106" fill="none" stroke="#fff" stroke-width="6" stroke-opacity="0.18" stroke-linecap="round" stroke-linejoin="round" filter="url(#b2)"/><path d="M93,42 L117,106" fill="none" stroke="#fff" stroke-width="6" stroke-opacity="0.18" stroke-linecap="round" stroke-linejoin="round" filter="url(#b2)"/><path d="M78.8,62 L78.8,78" fill="none" stroke="#fff" stroke-width="5" stroke-opacity="0.45" stroke-linecap="round" stroke-linejoin="round" filter="url(#b1_5)"/><path d="M69,106 L78.8,80 L89.8,106" fill="none" stroke="#fff" stroke-width="5.5" stroke-opacity="1" stroke-linecap="round" stroke-linejoin="round" filter="url(#b1)"/><path d="M78.8,76 L78.8,90" fill="none" stroke="#fff" stroke-width="7" stroke-opacity="1" stroke-linecap="round" stroke-linejoin="round" filter="url(#b1_2)"/></g></g></g>
<g transform="translate(213.2,146.46)"><g clip-path="url(#c14)"><g filter="url(#cmO)"><rect x="-20" y="-20" width="190" height="160" fill="#000"/><rect x="-5" y="0" width="160" height="130" fill="#fff" fill-opacity="0.012"/><path d="M55,11 L94,11" fill="none" stroke="#fff" stroke-width="2" stroke-opacity="0.25" stroke-linecap="round" stroke-linejoin="round" filter="url(#b1_3)"/><path d="M58,13 L74.5,74.5 L92,13" fill="none" stroke="#fff" stroke-width="4" stroke-opacity="0.3" stroke-linecap="round" stroke-linejoin="round" filter="url(#b1_6)"/><path d="M54,24 L27,118" fill="none" stroke="#fff" stroke-width="7" stroke-opacity="0.12" stroke-linecap="round" stroke-linejoin="round" filter="url(#b2_5)"/><path d="M93,24 L122,118" fill="none" stroke="#fff" stroke-width="7" stroke-opacity="0.12" stroke-linecap="round" stroke-linejoin="round" filter="url(#b2_5)"/><path d="M61.5,118 L74.5,78 L85,118" fill="none" stroke="#fff" stroke-width="3.5" stroke-opacity="1" stroke-linecap="round" stroke-linejoin="round" filter="url(#b0_8)"/><ellipse cx="74.5" cy="81" rx="2.5" ry="4" fill="#fff" fill-opacity="1" filter="url(#b1)"/></g></g></g>
<g transform="translate(373.3,146.46)"><g clip-path="url(#c15)"><g filter="url(#cmO)"><rect x="-20" y="-20" width="190" height="160" fill="#000"/><rect x="-5" y="0" width="160" height="130" fill="#fff" fill-opacity="0.015"/><path d="M51.5,10.6 L99.6,10.6" fill="none" stroke="#fff" stroke-width="2.5" stroke-opacity="0.6" stroke-linecap="round" stroke-linejoin="round" filter="url(#b1)"/><ellipse cx="53.5" cy="10.5" rx="3" ry="2" fill="#fff" fill-opacity="1" filter="url(#b1)"/><ellipse cx="96.5" cy="10.5" rx="3" ry="2" fill="#fff" fill-opacity="1" filter="url(#b1)"/><path d="M53.6,11 L61,37" fill="none" stroke="#fff" stroke-width="4.5" stroke-opacity="0.45" stroke-linecap="round" stroke-linejoin="round" filter="url(#b1_5)"/><path d="M96.3,11 L89,37" fill="none" stroke="#fff" stroke-width="4.5" stroke-opacity="0.45" stroke-linecap="round" stroke-linejoin="round" filter="url(#b1_5)"/><path d="M60,34 L74.5,83 L89,34" fill="none" stroke="#fff" stroke-width="4.5" stroke-opacity="1" stroke-linecap="round" stroke-linejoin="round" filter="url(#b1)"/><path d="M62,118 L74.5,83 L86,118" fill="none" stroke="#fff" stroke-width="4.5" stroke-opacity="1" stroke-linecap="round" stroke-linejoin="round" filter="url(#b1)"/><path d="M50,44 L18,118" fill="none" stroke="#fff" stroke-width="10" stroke-opacity="0.1" stroke-linecap="round" stroke-linejoin="round" filter="url(#b3)"/><path d="M101,48 L128,118" fill="none" stroke="#fff" stroke-width="10" stroke-opacity="0.1" stroke-linecap="round" stroke-linejoin="round" filter="url(#b3)"/></g></g></g>
<g transform="translate(535.06,146.46)"><g clip-path="url(#c16)"><g filter="url(#cmO)"><rect x="-20" y="-20" width="190" height="160" fill="#000"/><rect x="-5" y="0" width="160" height="130" fill="#fff" fill-opacity="0.025"/><path d="M52,10.5 L98,10.5" fill="none" stroke="#fff" stroke-width="2" stroke-opacity="0.3" stroke-linecap="round" stroke-linejoin="round" filter="url(#b1)"/><path d="M52.5,9.9 L74.5,76" fill="none" stroke="#fff" stroke-width="3" stroke-opacity="1" stroke-linecap="round" stroke-linejoin="round" filter="url(#b1)"/><path d="M97.4,9.9 C92,30 86,50 74.5,76" fill="none" stroke="#fff" stroke-width="4.5" stroke-opacity="1" stroke-linecap="round" stroke-linejoin="round" filter="url(#b1)"/><path d="M74.5,78 L63.5,118" fill="none" stroke="#fff" stroke-width="4" stroke-opacity="0.4" stroke-linecap="round" stroke-linejoin="round" filter="url(#b1_5)"/><path d="M74.5,78 L81,118" fill="none" stroke="#fff" stroke-width="4" stroke-opacity="0.4" stroke-linecap="round" stroke-linejoin="round" filter="url(#b1_5)"/><path d="M48,44 L15,118" fill="none" stroke="#fff" stroke-width="14" stroke-opacity="0.1" stroke-linecap="round" stroke-linejoin="round" filter="url(#b3)"/><path d="M101,42 L131,118" fill="none" stroke="#fff" stroke-width="14" stroke-opacity="0.1" stroke-linecap="round" stroke-linejoin="round" filter="url(#b3)"/></g></g></g>
<g transform="translate(52.75,399.46)"><g clip-path="url(#c17)"><g filter="url(#cmO)"><rect x="-20" y="-20" width="190" height="160" fill="#000"/><rect x="-5" y="0" width="160" height="130" fill="#fff" fill-opacity="0.012"/><path d="M64,10.5 L92,10.5" fill="none" stroke="#fff" stroke-width="3" stroke-opacity="0.22" stroke-linecap="round" stroke-linejoin="round" filter="url(#b1_5)"/><path d="M59,22 L26,106" fill="none" stroke="#fff" stroke-width="8" stroke-opacity="0.1" stroke-linecap="round" stroke-linejoin="round" filter="url(#b2_5)"/><path d="M90,22 L118,106" fill="none" stroke="#fff" stroke-width="8" stroke-opacity="0.1" stroke-linecap="round" stroke-linejoin="round" filter="url(#b2_5)"/><path d="M62,28 L68,62" fill="none" stroke="#fff" stroke-width="5" stroke-opacity="0.12" stroke-linecap="round" stroke-linejoin="round" filter="url(#b2)"/><path d="M94,54.5 L86.5,62.4" fill="none" stroke="#fff" stroke-width="3" stroke-opacity="0.6" stroke-linecap="round" stroke-linejoin="round" filter="url(#b1)"/><path d="M86.5,62.4 L103,106" fill="none" stroke="#fff" stroke-width="3.5" stroke-opacity="0.75" stroke-linecap="round" stroke-linejoin="round" filter="url(#b1)"/><ellipse cx="86.5" cy="62.4" rx="2" ry="2" fill="#fff" fill-opacity="1" filter="url(#b0_8)"/><ellipse cx="67" cy="62.5" rx="3" ry="2.5" fill="#fff" fill-opacity="0.55" filter="url(#b1_5)"/><ellipse cx="77.7" cy="88" rx="4.5" ry="6" fill="#fff" fill-opacity="1" filter="url(#b1)"/><path d="M66.3,106 L77.7,86 L87,106" fill="none" stroke="#fff" stroke-width="5.5" stroke-opacity="1" stroke-linecap="round" stroke-linejoin="round" filter="url(#b1)"/></g></g></g>
<g transform="translate(213.2,399.46)"><g clip-path="url(#c18)"><g filter="url(#cmO)"><rect x="-20" y="-20" width="190" height="160" fill="#000"/><rect x="-5" y="0" width="160" height="130" fill="#fff" fill-opacity="0.012"/><path d="M66,10.5 L86,10.5" fill="none" stroke="#fff" stroke-width="3" stroke-opacity="0.6" stroke-linecap="round" stroke-linejoin="round" filter="url(#b1_5)"/><ellipse cx="76" cy="10.5" rx="6" ry="1.5" fill="#fff" fill-opacity="0.5" filter="url(#b1)"/><path d="M56,26 L22,118" fill="none" stroke="#fff" stroke-width="9" stroke-opacity="0.1" stroke-linecap="round" stroke-linejoin="round" filter="url(#b2_5)"/><path d="M93,26 L124,118" fill="none" stroke="#fff" stroke-width="9" stroke-opacity="0.1" stroke-linecap="round" stroke-linejoin="round" filter="url(#b2_5)"/><path d="M74.9,74 L87.6,60.2 L96,51" fill="none" stroke="#fff" stroke-width="3" stroke-opacity="0.55" stroke-linecap="round" stroke-linejoin="round" filter="url(#b1)"/><path d="M52,46 L74.9,74" fill="none" stroke="#fff" stroke-width="3" stroke-opacity="0.3" stroke-linecap="round" stroke-linejoin="round" filter="url(#b1)"/><path d="M88.7,72.3 L98.5,98.5" fill="none" stroke="#fff" stroke-width="3" stroke-opacity="0.3" stroke-linecap="round" stroke-linejoin="round" filter="url(#b1_2)"/><path d="M61,118 L74.5,85 L85.8,118" fill="none" stroke="#fff" stroke-width="3.5" stroke-opacity="1" stroke-linecap="round" stroke-linejoin="round" filter="url(#b0_8)"/><ellipse cx="74.5" cy="86.5" rx="3" ry="3" fill="#fff" fill-opacity="1" filter="url(#b0_8)"/></g></g></g>
<g transform="translate(373.3,399.46)"><g clip-path="url(#c19)"><g filter="url(#cmO)"><rect x="-20" y="-20" width="190" height="160" fill="#000"/><rect x="-5" y="0" width="160" height="130" fill="#fff" fill-opacity="0.012"/><path d="M52,10.5 L99,10.5" fill="none" stroke="#fff" stroke-width="3" stroke-opacity="0.35" stroke-linecap="round" stroke-linejoin="round" filter="url(#b1_5)"/><path d="M53.6,15.3 L65.7,59" fill="none" stroke="#fff" stroke-width="4" stroke-opacity="0.28" stroke-linecap="round" stroke-linejoin="round" filter="url(#b1_5)"/><path d="M96.3,15.3 L86.5,61.3" fill="none" stroke="#fff" stroke-width="4" stroke-opacity="0.28" stroke-linecap="round" stroke-linejoin="round" filter="url(#b1_5)"/><path d="M65.7,59 L74.5,74.4 L86.5,61.3" fill="none" stroke="#fff" stroke-width="4.5" stroke-opacity="1" stroke-linecap="round" stroke-linejoin="round" filter="url(#b1)"/><ellipse cx="74.5" cy="77" rx="2.5" ry="3" fill="#fff" fill-opacity="0.6" filter="url(#b1)"/><ellipse cx="74.5" cy="87.6" rx="3.5" ry="5" fill="#fff" fill-opacity="1" filter="url(#b1)"/><path d="M61.3,118 L74.5,86 L86.5,118" fill="none" stroke="#fff" stroke-width="4" stroke-opacity="1" stroke-linecap="round" stroke-linejoin="round" filter="url(#b1)"/><path d="M92,74.4 L103,103" fill="none" stroke="#fff" stroke-width="3" stroke-opacity="0.3" stroke-linecap="round" stroke-linejoin="round" filter="url(#b1_2)"/><path d="M50,33 L19,118" fill="none" stroke="#fff" stroke-width="9" stroke-opacity="0.1" stroke-linecap="round" stroke-linejoin="round" filter="url(#b2_5)"/><path d="M101,33 L129,118" fill="none" stroke="#fff" stroke-width="9" stroke-opacity="0.1" stroke-linecap="round" stroke-linejoin="round" filter="url(#b2_5)"/></g></g></g>
<g transform="translate(535.06,399.46)"><g clip-path="url(#c20)"><g filter="url(#cmO)"><rect x="-20" y="-20" width="190" height="160" fill="#000"/><rect x="-5" y="0" width="160" height="130" fill="#fff" fill-opacity="0.015"/><path d="M46,10.5 L102,10.5" fill="none" stroke="#fff" stroke-width="3" stroke-opacity="0.5" stroke-linecap="round" stroke-linejoin="round" filter="url(#b1_2)"/><path d="M62,10.5 L88,10.5" fill="none" stroke="#fff" stroke-width="2.5" stroke-opacity="1" stroke-linecap="round" stroke-linejoin="round" filter="url(#b1)"/><path d="M53.6,21.9 L64.6,61.3" fill="none" stroke="#fff" stroke-width="3" stroke-opacity="0.4" stroke-linecap="round" stroke-linejoin="round" filter="url(#b1_3)"/><path d="M96.3,17.5 L87.6,57" fill="none" stroke="#fff" stroke-width="3.5" stroke-opacity="0.5" stroke-linecap="round" stroke-linejoin="round" filter="url(#b1_3)"/><path d="M64.6,61.3 L73.4,75.5" fill="none" stroke="#fff" stroke-width="4" stroke-opacity="1" stroke-linecap="round" stroke-linejoin="round" filter="url(#b1)"/><path d="M87.6,57 L74.5,75.5" fill="none" stroke="#fff" stroke-width="6" stroke-opacity="1" stroke-linecap="round" stroke-linejoin="round" filter="url(#b1)"/><ellipse cx="72.3" cy="88.7" rx="2.5" ry="3" fill="#fff" fill-opacity="1" filter="url(#b1)"/><path d="M72.3,88.7 L63.5,118" fill="none" stroke="#fff" stroke-width="3" stroke-opacity="0.45" stroke-linecap="round" stroke-linejoin="round" filter="url(#b1_2)"/><path d="M72.3,88.7 L82,118" fill="none" stroke="#fff" stroke-width="3" stroke-opacity="0.45" stroke-linecap="round" stroke-linejoin="round" filter="url(#b1_2)"/><path d="M44,44 L15,118" fill="none" stroke="#fff" stroke-width="12" stroke-opacity="0.1" stroke-linecap="round" stroke-linejoin="round" filter="url(#b3)"/><path d="M101,44 L134,118" fill="none" stroke="#fff" stroke-width="12" stroke-opacity="0.1" stroke-linecap="round" stroke-linejoin="round" filter="url(#b3)"/></g></g></g>
<g transform="translate(52.75,652.46)"><g clip-path="url(#c21)"><g filter="url(#cmO)"><rect x="-20" y="-20" width="190" height="160" fill="#000"/><rect x="-5" y="0" width="160" height="130" fill="#fff" fill-opacity="0.012"/><path d="M5,11 L145,11" fill="none" stroke="#fff" stroke-width="3" stroke-opacity="0.06" stroke-linecap="round" stroke-linejoin="round" filter="url(#b1_5)"/><path d="M16.2,114 L37.2,46.3 C41.940000000000005,30.845 48,18.2 53,18.2 C58,18.2 65.6,30.845 71,46.3 L74.5,50.5" fill="none" stroke="#fff" stroke-width="5" stroke-opacity="0.45" stroke-linecap="round" stroke-linejoin="round" filter="url(#b1_2)"/><path d="M74,47.4 C66,48.4 62.6,53.2 57.6,59.2 S43.7,79.5 29.5,114.5" fill="none" stroke="#fff" stroke-width="4.5" stroke-opacity="0.42" stroke-linecap="round" stroke-linejoin="round" filter="url(#b1_2)"/><path d="M73.2,52.5 L50.7,85.8" fill="none" stroke="#fff" stroke-width="3.5" stroke-opacity="0.3" stroke-linecap="round" stroke-linejoin="round" filter="url(#b1_2)"/><path d="M75,48 L89,25 L95.5,16.5 L100,24 L111.3,46.2 L125.3,114" fill="none" stroke="#fff" stroke-width="5" stroke-opacity="0.36" stroke-linecap="round" stroke-linejoin="round" filter="url(#b1_3)"/><ellipse cx="83" cy="34.5" rx="1.5" ry="2" fill="#fff" fill-opacity="0.8" filter="url(#b1)"/><ellipse cx="75.5" cy="49.5" rx="3" ry="2.5" fill="#fff" fill-opacity="0.75" filter="url(#b1)"/><path d="M61.1,97 Q63.5,88.5 69.3,87.6 Q72.5,86.8 74,88 Q76,86.8 80,87.6 Q85,89 86.8,99.3" fill="none" stroke="#fff" stroke-width="4.5" stroke-opacity="1" stroke-linecap="round" stroke-linejoin="round" filter="url(#b1)"/><path d="M61,97 L56.4,114" fill="none" stroke="#fff" stroke-width="3" stroke-opacity="0.5" stroke-linecap="round" stroke-linejoin="round" filter="url(#b1_2)"/><path d="M69.3,96 L64.2,115" fill="none" stroke="#fff" stroke-width="2.5" stroke-opacity="0.9" stroke-linecap="round" stroke-linejoin="round" filter="url(#b1)"/><path d="M76.3,97 L83.6,115" fill="none" stroke="#fff" stroke-width="2.5" stroke-opacity="0.9" stroke-linecap="round" stroke-linejoin="round" filter="url(#b1)"/><path d="M86.8,100 L91,115" fill="none" stroke="#fff" stroke-width="3" stroke-opacity="0.5" stroke-linecap="round" stroke-linejoin="round" filter="url(#b1_2)"/><path d="M79,54 L111.8,114" fill="none" stroke="#fff" stroke-width="3" stroke-opacity="0.3" stroke-linecap="round" stroke-linejoin="round" filter="url(#b1_2)"/><path d="M88,54 L118,114" fill="none" stroke="#fff" stroke-width="3" stroke-opacity="0.25" stroke-linecap="round" stroke-linejoin="round" filter="url(#b1_2)"/><path d="M130,52.5 L141.6,109.8" fill="none" stroke="#fff" stroke-width="3" stroke-opacity="0.12" stroke-linecap="round" stroke-linejoin="round" filter="url(#b1_5)"/><path d="M17.8,58.3 L3.5,105" fill="none" stroke="#fff" stroke-width="4" stroke-opacity="0.1" stroke-linecap="round" stroke-linejoin="round" filter="url(#b1_5)"/></g></g></g>
<g transform="translate(213.2,652.46)"><g clip-path="url(#c22)"><g filter="url(#cmO)"><rect x="-20" y="-20" width="190" height="160" fill="#000"/><rect x="-5" y="0" width="160" height="130" fill="#fff" fill-opacity="0.015"/><path d="M5,11 L145,11" fill="none" stroke="#fff" stroke-width="3" stroke-opacity="0.07" stroke-linecap="round" stroke-linejoin="round" filter="url(#b1_5)"/><path d="M16.6,114 L38.5,46.3 C43.18,30.515 49.1,17.6 54.1,17.6 C59.1,17.6 66.63,30.515 72,46.3 L75.5,50.5" fill="none" stroke="#fff" stroke-width="5" stroke-opacity="0.45" stroke-linecap="round" stroke-linejoin="round" filter="url(#b1_2)"/><path d="M74.5,47.4 C66.5,48.4 64.3,52 59.3,58 S44.5,78.5 30.2,114.5" fill="none" stroke="#fff" stroke-width="4.5" stroke-opacity="0.38" stroke-linecap="round" stroke-linejoin="round" filter="url(#b1_2)"/><path d="M74.5,52.5 L51.5,86.5" fill="none" stroke="#fff" stroke-width="3.5" stroke-opacity="0.28" stroke-linecap="round" stroke-linejoin="round" filter="url(#b1_2)"/><path d="M78,49.8 L93.1,22.9 L97.8,17 L99,22.9 L114.2,58 L128,114" fill="none" stroke="#fff" stroke-width="5" stroke-opacity="0.36" stroke-linecap="round" stroke-linejoin="round" filter="url(#b1_3)"/><path d="M93.1,22.9 L83.7,38.1" fill="none" stroke="#fff" stroke-width="3.5" stroke-opacity="0.85" stroke-linecap="round" stroke-linejoin="round" filter="url(#b1)"/><ellipse cx="78" cy="49.8" rx="3" ry="2.5" fill="#fff" fill-opacity="0.9" filter="url(#b1)"/><path d="M61.1,99 Q63.5,90 69.3,89 Q72.5,88.5 74.5,93 Q76.5,88.5 80,89 Q85,90 87.6,99" fill="none" stroke="#fff" stroke-width="4" stroke-opacity="1" stroke-linecap="round" stroke-linejoin="round" filter="url(#b1)"/><ellipse cx="74.5" cy="94" rx="2" ry="2.5" fill="#fff" fill-opacity="1" filter="url(#b1)"/><path d="M61,99 L57,115" fill="none" stroke="#fff" stroke-width="3" stroke-opacity="0.5" stroke-linecap="round" stroke-linejoin="round" filter="url(#b1_2)"/><path d="M74,95 L66,115" fill="none" stroke="#fff" stroke-width="2.5" stroke-opacity="0.9" stroke-linecap="round" stroke-linejoin="round" filter="url(#b1)"/><path d="M75,95 L83,115" fill="none" stroke="#fff" stroke-width="2.5" stroke-opacity="0.9" stroke-linecap="round" stroke-linejoin="round" filter="url(#b1)"/><path d="M87.6,100 L91,115" fill="none" stroke="#fff" stroke-width="3" stroke-opacity="0.5" stroke-linecap="round" stroke-linejoin="round" filter="url(#b1_2)"/><path d="M74.5,70 L75,82" fill="none" stroke="#fff" stroke-width="3" stroke-opacity="0.3" stroke-linecap="round" stroke-linejoin="round" filter="url(#b1_2)"/><path d="M88,70 L105,100" fill="none" stroke="#fff" stroke-width="3" stroke-opacity="0.3" stroke-linecap="round" stroke-linejoin="round" filter="url(#b1_2)"/><path d="M94,66 L114,112" fill="none" stroke="#fff" stroke-width="3" stroke-opacity="0.3" stroke-linecap="round" stroke-linejoin="round" filter="url(#b1_2)"/><path d="M132,52.5 L143,109.8" fill="none" stroke="#fff" stroke-width="3" stroke-opacity="0.12" stroke-linecap="round" stroke-linejoin="round" filter="url(#b1_5)"/><path d="M20,40 L5,100" fill="none" stroke="#fff" stroke-width="4" stroke-opacity="0.12" stroke-linecap="round" stroke-linejoin="round" filter="url(#b1_5)"/></g></g></g>
<g transform="translate(373.3,652.46)"><g clip-path="url(#c23)"><g filter="url(#cmO)"><rect x="-20" y="-20" width="190" height="160" fill="#000"/><rect x="-5" y="0" width="160" height="130" fill="#fff" fill-opacity="0.015"/><path d="M5,11 L145,11" fill="none" stroke="#fff" stroke-width="3" stroke-opacity="0.07" stroke-linecap="round" stroke-linejoin="round" filter="url(#b1_5)"/><path d="M13.9,114 L35.5,46.3 C40.54,30.845 47.3,18.2 52.3,18.2 C57.3,18.2 64.34,30.845 69.5,46.3 L72,53.2" fill="none" stroke="#fff" stroke-width="5" stroke-opacity="0.42" stroke-linecap="round" stroke-linejoin="round" filter="url(#b1_2)"/><path d="M70.9,47.7 C62.900000000000006,48.7 61,53 56,59 S42,80 28.2,114.5" fill="none" stroke="#fff" stroke-width="4.5" stroke-opacity="0.35" stroke-linecap="round" stroke-linejoin="round" filter="url(#b1_2)"/><ellipse cx="52.3" cy="14" rx="3" ry="4" fill="#fff" fill-opacity="0.5" filter="url(#b1_5)"/><path d="M72,53.2 L49,86" fill="none" stroke="#fff" stroke-width="3.5" stroke-opacity="0.25" stroke-linecap="round" stroke-linejoin="round" filter="url(#b1_2)"/><ellipse cx="75.2" cy="51" rx="4" ry="3" fill="#fff" fill-opacity="0.6" filter="url(#b1_2)"/><path d="M75.2,51 L90,25 L97.1,16 L103,30 L133.3,114" fill="none" stroke="#fff" stroke-width="5" stroke-opacity="0.38" stroke-linecap="round" stroke-linejoin="round" filter="url(#b1_3)"/><ellipse cx="97.1" cy="16" rx="3" ry="5" fill="#fff" fill-opacity="0.55" filter="url(#b1_5)"/><path d="M74.1,65.2 L75.2,82.7" fill="none" stroke="#fff" stroke-width="3" stroke-opacity="0.35" stroke-linecap="round" stroke-linejoin="round" filter="url(#b1_2)"/><path d="M64.3,93 Q68,88.5 74.1,89 Q80,88.5 86.2,94" fill="none" stroke="#fff" stroke-width="4.5" stroke-opacity="1" stroke-linecap="round" stroke-linejoin="round" filter="url(#b1)"/><ellipse cx="74.1" cy="85" rx="2" ry="3.5" fill="#fff" fill-opacity="0.6" filter="url(#b1)"/><path d="M64.3,93 L57.7,115" fill="none" stroke="#fff" stroke-width="3" stroke-opacity="0.45" stroke-linecap="round" stroke-linejoin="round" filter="url(#b1_2)"/><path d="M70,92 L65.4,115" fill="none" stroke="#fff" stroke-width="2.5" stroke-opacity="0.5" stroke-linecap="round" stroke-linejoin="round" filter="url(#b1_2)"/><path d="M78,92 L82.9,115" fill="none" stroke="#fff" stroke-width="2.5" stroke-opacity="0.5" stroke-linecap="round" stroke-linejoin="round" filter="url(#b1_2)"/><path d="M86.2,94 L91.7,115" fill="none" stroke="#fff" stroke-width="3" stroke-opacity="0.45" stroke-linecap="round" stroke-linejoin="round" filter="url(#b1_2)"/><path d="M91.7,69.6 L104.8,98" fill="none" stroke="#fff" stroke-width="2.5" stroke-opacity="0.32" stroke-linecap="round" stroke-linejoin="round" filter="url(#b1_2)"/><path d="M96,65.2 L111.4,98" fill="none" stroke="#fff" stroke-width="2.5" stroke-opacity="0.32" stroke-linecap="round" stroke-linejoin="round" filter="url(#b1_2)"/><path d="M21.6,21.4 L8.5,109" fill="none" stroke="#fff" stroke-width="4" stroke-opacity="0.1" stroke-linecap="round" stroke-linejoin="round" filter="url(#b1_5)"/></g></g></g>
<g transform="translate(535.06,652.46)"><g clip-path="url(#c24)"><g filter="url(#cmO)"><rect x="-20" y="-20" width="190" height="160" fill="#000"/><rect x="-5" y="0" width="160" height="130" fill="#fff" fill-opacity="0.02"/><path d="M5,11 L145,11" fill="none" stroke="#fff" stroke-width="3" stroke-opacity="0.09" stroke-linecap="round" stroke-linejoin="round" filter="url(#b1_5)"/><path d="M14.1,114 L36,46.3 C40.95,31.064999999999998 47.5,18.6 52.5,18.6 C57.5,18.6 64.82,30.659999999999997 70.1,45.4 L74.5,50" fill="none" stroke="#fff" stroke-width="5.5" stroke-opacity="0.5" stroke-linecap="round" stroke-linejoin="round" filter="url(#b1_2)"/><path d="M72.8,47.6 C64.8,48.6 61.9,53.1 56.9,59.1 S46.8,71.9 28.5,114.5" fill="none" stroke="#fff" stroke-width="4.5" stroke-opacity="0.3" stroke-linecap="round" stroke-linejoin="round" filter="url(#b1_2)"/><ellipse cx="51.5" cy="15" rx="3.5" ry="6" fill="#fff" fill-opacity="0.9" filter="url(#b1_2)"/><path d="M53,17 L61.3,52.5 L72.3,85.4" fill="none" stroke="#fff" stroke-width="4" stroke-opacity="0.95" stroke-linecap="round" stroke-linejoin="round" filter="url(#b1)"/><path d="M99.1,14 L96.8,22.9 L85.1,58 L73.4,87.6" fill="none" stroke="#fff" stroke-width="4.5" stroke-opacity="1" stroke-linecap="round" stroke-linejoin="round" filter="url(#b1)"/><ellipse cx="99.1" cy="17" rx="3" ry="6" fill="#fff" fill-opacity="1" filter="url(#b1)"/><path d="M93.3,20.6 L74.6,48.7" fill="none" stroke="#fff" stroke-width="3.5" stroke-opacity="0.7" stroke-linecap="round" stroke-linejoin="round" filter="url(#b1_2)"/><ellipse cx="74.6" cy="48.7" rx="2.5" ry="2.5" fill="#fff" fill-opacity="0.9" filter="url(#b1)"/><path d="M102.6,26.8 L114.3,59.4 L124.8,112" fill="none" stroke="#fff" stroke-width="3.5" stroke-opacity="0.85" stroke-linecap="round" stroke-linejoin="round" filter="url(#b1_1)"/><path d="M61.3,95 Q66,87.5 72.8,86.5 Q79,87 81.6,92.2 L87.4,112" fill="none" stroke="#fff" stroke-width="3.5" stroke-opacity="0.85" stroke-linecap="round" stroke-linejoin="round" filter="url(#b1)"/><path d="M61.3,95 L56,112" fill="none" stroke="#fff" stroke-width="3" stroke-opacity="0.4" stroke-linecap="round" stroke-linejoin="round" filter="url(#b1_2)"/><path d="M72.3,86 L64.6,114" fill="none" stroke="#fff" stroke-width="3" stroke-opacity="0.5" stroke-linecap="round" stroke-linejoin="round" filter="url(#b1_2)"/><path d="M27.4,11.2 L14.2,60.5 L5,100" fill="none" stroke="#fff" stroke-width="3" stroke-opacity="0.25" stroke-linecap="round" stroke-linejoin="round" filter="url(#b1_2)"/><path d="M17.5,11.2 L3.3,49.6" fill="none" stroke="#fff" stroke-width="3" stroke-opacity="0.2" stroke-linecap="round" stroke-linejoin="round" filter="url(#b1_2)"/><path d="M116.3,11.2 L130.4,58 L140,100" fill="none" stroke="#fff" stroke-width="3" stroke-opacity="0.2" stroke-linecap="round" stroke-linejoin="round" filter="url(#b1_2)"/><path d="M130.4,11.2 L145,60" fill="none" stroke="#fff" stroke-width="3" stroke-opacity="0.15" stroke-linecap="round" stroke-linejoin="round" filter="url(#b1_2)"/><path d="M92.1,64.2 L108.5,105" fill="none" stroke="#fff" stroke-width="3" stroke-opacity="0.3" stroke-linecap="round" stroke-linejoin="round" filter="url(#b1_2)"/></g></g></g>
<path d="M52.5,19.5 H202.5 V134.5 H52.5 Z" fill="none" stroke="#141414" stroke-width="1.2"/>
<path d="M45.5,28.5 H52.5" stroke="#141414" stroke-width="1.2"/>
<path d="M45.5,58.5 H52.5" stroke="#141414" stroke-width="1.2"/>
<path d="M45.5,88.5 H52.5" stroke="#141414" stroke-width="1.2"/>
<path d="M45.5,118.5 H52.5" stroke="#141414" stroke-width="1.2"/>
<path d="M52.5,134.5 V141.5" stroke="#141414" stroke-width="1.2"/>
<path d="M90.5,134.5 V141.5" stroke="#141414" stroke-width="1.2"/>
<path d="M127.5,134.5 V141.5" stroke="#141414" stroke-width="1.2"/>
<path d="M164.5,134.5 V141.5" stroke="#141414" stroke-width="1.2"/>
<path d="M202.5,134.5 V141.5" stroke="#141414" stroke-width="1.2"/>
<path d="M213.5,19.5 H362.5 V134.5 H213.5 Z" fill="none" stroke="#141414" stroke-width="1.2"/>
<path d="M206.5,28.5 H213.5" stroke="#141414" stroke-width="1.2"/>
<path d="M206.5,58.5 H213.5" stroke="#141414" stroke-width="1.2"/>
<path d="M206.5,88.5 H213.5" stroke="#141414" stroke-width="1.2"/>
<path d="M206.5,118.5 H213.5" stroke="#141414" stroke-width="1.2"/>
<path d="M213.5,134.5 V141.5" stroke="#141414" stroke-width="1.2"/>
<path d="M250.5,134.5 V141.5" stroke="#141414" stroke-width="1.2"/>
<path d="M287.5,134.5 V141.5" stroke="#141414" stroke-width="1.2"/>
<path d="M325.5,134.5 V141.5" stroke="#141414" stroke-width="1.2"/>
<path d="M362.5,134.5 V141.5" stroke="#141414" stroke-width="1.2"/>
<path d="M373.5,19.5 H522.5 V134.5 H373.5 Z" fill="none" stroke="#141414" stroke-width="1.2"/>
<path d="M366.5,28.5 H373.5" stroke="#141414" stroke-width="1.2"/>
<path d="M366.5,58.5 H373.5" stroke="#141414" stroke-width="1.2"/>
<path d="M366.5,88.5 H373.5" stroke="#141414" stroke-width="1.2"/>
<path d="M366.5,118.5 H373.5" stroke="#141414" stroke-width="1.2"/>
<path d="M373.5,134.5 V141.5" stroke="#141414" stroke-width="1.2"/>
<path d="M410.5,134.5 V141.5" stroke="#141414" stroke-width="1.2"/>
<path d="M447.5,134.5 V141.5" stroke="#141414" stroke-width="1.2"/>
<path d="M485.5,134.5 V141.5" stroke="#141414" stroke-width="1.2"/>
<path d="M522.5,134.5 V141.5" stroke="#141414" stroke-width="1.2"/>
<path d="M535.5,19.5 H684.5 V134.5 H535.5 Z" fill="none" stroke="#141414" stroke-width="1.2"/>
<path d="M528.5,28.5 H535.5" stroke="#141414" stroke-width="1.2"/>
<path d="M528.5,58.5 H535.5" stroke="#141414" stroke-width="1.2"/>
<path d="M528.5,88.5 H535.5" stroke="#141414" stroke-width="1.2"/>
<path d="M528.5,118.5 H535.5" stroke="#141414" stroke-width="1.2"/>
<path d="M535.5,134.5 V141.5" stroke="#141414" stroke-width="1.2"/>
<path d="M572.5,134.5 V141.5" stroke="#141414" stroke-width="1.2"/>
<path d="M609.5,134.5 V141.5" stroke="#141414" stroke-width="1.2"/>
<path d="M646.5,134.5 V141.5" stroke="#141414" stroke-width="1.2"/>
<path d="M684.5,134.5 V141.5" stroke="#141414" stroke-width="1.2"/>
<path d="M52.5,146.5 H202.5 V261.5 H52.5 Z" fill="none" stroke="#141414" stroke-width="1.2"/>
<path d="M45.5,155.5 H52.5" stroke="#141414" stroke-width="1.2"/>
<path d="M45.5,185.5 H52.5" stroke="#141414" stroke-width="1.2"/>
<path d="M45.5,215.5 H52.5" stroke="#141414" stroke-width="1.2"/>
<path d="M45.5,245.5 H52.5" stroke="#141414" stroke-width="1.2"/>
<path d="M52.5,261.5 V268.5" stroke="#141414" stroke-width="1.2"/>
<path d="M90.5,261.5 V268.5" stroke="#141414" stroke-width="1.2"/>
<path d="M127.5,261.5 V268.5" stroke="#141414" stroke-width="1.2"/>
<path d="M164.5,261.5 V268.5" stroke="#141414" stroke-width="1.2"/>
<path d="M202.5,261.5 V268.5" stroke="#141414" stroke-width="1.2"/>
<path d="M213.5,146.5 H362.5 V261.5 H213.5 Z" fill="none" stroke="#141414" stroke-width="1.2"/>
<path d="M206.5,155.5 H213.5" stroke="#141414" stroke-width="1.2"/>
<path d="M206.5,185.5 H213.5" stroke="#141414" stroke-width="1.2"/>
<path d="M206.5,215.5 H213.5" stroke="#141414" stroke-width="1.2"/>
<path d="M206.5,245.5 H213.5" stroke="#141414" stroke-width="1.2"/>
<path d="M213.5,261.5 V268.5" stroke="#141414" stroke-width="1.2"/>
<path d="M250.5,261.5 V268.5" stroke="#141414" stroke-width="1.2"/>
<path d="M287.5,261.5 V268.5" stroke="#141414" stroke-width="1.2"/>
<path d="M325.5,261.5 V268.5" stroke="#141414" stroke-width="1.2"/>
<path d="M362.5,261.5 V268.5" stroke="#141414" stroke-width="1.2"/>
<path d="M373.5,146.5 H522.5 V261.5 H373.5 Z" fill="none" stroke="#141414" stroke-width="1.2"/>
<path d="M366.5,155.5 H373.5" stroke="#141414" stroke-width="1.2"/>
<path d="M366.5,185.5 H373.5" stroke="#141414" stroke-width="1.2"/>
<path d="M366.5,215.5 H373.5" stroke="#141414" stroke-width="1.2"/>
<path d="M366.5,245.5 H373.5" stroke="#141414" stroke-width="1.2"/>
<path d="M373.5,261.5 V268.5" stroke="#141414" stroke-width="1.2"/>
<path d="M410.5,261.5 V268.5" stroke="#141414" stroke-width="1.2"/>
<path d="M447.5,261.5 V268.5" stroke="#141414" stroke-width="1.2"/>
<path d="M485.5,261.5 V268.5" stroke="#141414" stroke-width="1.2"/>
<path d="M522.5,261.5 V268.5" stroke="#141414" stroke-width="1.2"/>
<path d="M535.5,146.5 H684.5 V261.5 H535.5 Z" fill="none" stroke="#141414" stroke-width="1.2"/>
<path d="M528.5,155.5 H535.5" stroke="#141414" stroke-width="1.2"/>
<path d="M528.5,185.5 H535.5" stroke="#141414" stroke-width="1.2"/>
<path d="M528.5,215.5 H535.5" stroke="#141414" stroke-width="1.2"/>
<path d="M528.5,245.5 H535.5" stroke="#141414" stroke-width="1.2"/>
<path d="M535.5,261.5 V268.5" stroke="#141414" stroke-width="1.2"/>
<path d="M572.5,261.5 V268.5" stroke="#141414" stroke-width="1.2"/>
<path d="M609.5,261.5 V268.5" stroke="#141414" stroke-width="1.2"/>
<path d="M646.5,261.5 V268.5" stroke="#141414" stroke-width="1.2"/>
<path d="M684.5,261.5 V268.5" stroke="#141414" stroke-width="1.2"/>
<path d="M52.5,273.5 H202.5 V387.5 H52.5 Z" fill="none" stroke="#141414" stroke-width="1.2"/>
<path d="M45.5,281.5 H52.5" stroke="#141414" stroke-width="1.2"/>
<path d="M45.5,312.5 H52.5" stroke="#141414" stroke-width="1.2"/>
<path d="M45.5,342.5 H52.5" stroke="#141414" stroke-width="1.2"/>
<path d="M45.5,372.5 H52.5" stroke="#141414" stroke-width="1.2"/>
<path d="M52.5,387.5 V394.5" stroke="#141414" stroke-width="1.2"/>
<path d="M90.5,387.5 V394.5" stroke="#141414" stroke-width="1.2"/>
<path d="M127.5,387.5 V394.5" stroke="#141414" stroke-width="1.2"/>
<path d="M164.5,387.5 V394.5" stroke="#141414" stroke-width="1.2"/>
<path d="M202.5,387.5 V394.5" stroke="#141414" stroke-width="1.2"/>
<path d="M213.5,273.5 H362.5 V387.5 H213.5 Z" fill="none" stroke="#141414" stroke-width="1.2"/>
<path d="M206.5,281.5 H213.5" stroke="#141414" stroke-width="1.2"/>
<path d="M206.5,312.5 H213.5" stroke="#141414" stroke-width="1.2"/>
<path d="M206.5,342.5 H213.5" stroke="#141414" stroke-width="1.2"/>
<path d="M206.5,372.5 H213.5" stroke="#141414" stroke-width="1.2"/>
<path d="M213.5,387.5 V394.5" stroke="#141414" stroke-width="1.2"/>
<path d="M250.5,387.5 V394.5" stroke="#141414" stroke-width="1.2"/>
<path d="M287.5,387.5 V394.5" stroke="#141414" stroke-width="1.2"/>
<path d="M325.5,387.5 V394.5" stroke="#141414" stroke-width="1.2"/>
<path d="M362.5,387.5 V394.5" stroke="#141414" stroke-width="1.2"/>
<path d="M373.5,273.5 H522.5 V387.5 H373.5 Z" fill="none" stroke="#141414" stroke-width="1.2"/>
<path d="M366.5,281.5 H373.5" stroke="#141414" stroke-width="1.2"/>
<path d="M366.5,312.5 H373.5" stroke="#141414" stroke-width="1.2"/>
<path d="M366.5,342.5 H373.5" stroke="#141414" stroke-width="1.2"/>
<path d="M366.5,372.5 H373.5" stroke="#141414" stroke-width="1.2"/>
<path d="M373.5,387.5 V394.5" stroke="#141414" stroke-width="1.2"/>
<path d="M410.5,387.5 V394.5" stroke="#141414" stroke-width="1.2"/>
<path d="M447.5,387.5 V394.5" stroke="#141414" stroke-width="1.2"/>
<path d="M485.5,387.5 V394.5" stroke="#141414" stroke-width="1.2"/>
<path d="M522.5,387.5 V394.5" stroke="#141414" stroke-width="1.2"/>
<path d="M535.5,273.5 H684.5 V387.5 H535.5 Z" fill="none" stroke="#141414" stroke-width="1.2"/>
<path d="M528.5,281.5 H535.5" stroke="#141414" stroke-width="1.2"/>
<path d="M528.5,312.5 H535.5" stroke="#141414" stroke-width="1.2"/>
<path d="M528.5,342.5 H535.5" stroke="#141414" stroke-width="1.2"/>
<path d="M528.5,372.5 H535.5" stroke="#141414" stroke-width="1.2"/>
<path d="M535.5,387.5 V394.5" stroke="#141414" stroke-width="1.2"/>
<path d="M572.5,387.5 V394.5" stroke="#141414" stroke-width="1.2"/>
<path d="M609.5,387.5 V394.5" stroke="#141414" stroke-width="1.2"/>
<path d="M646.5,387.5 V394.5" stroke="#141414" stroke-width="1.2"/>
<path d="M684.5,387.5 V394.5" stroke="#141414" stroke-width="1.2"/>
<path d="M52.5,399.5 H202.5 V514.5 H52.5 Z" fill="none" stroke="#141414" stroke-width="1.2"/>
<path d="M45.5,408.5 H52.5" stroke="#141414" stroke-width="1.2"/>
<path d="M45.5,438.5 H52.5" stroke="#141414" stroke-width="1.2"/>
<path d="M45.5,468.5 H52.5" stroke="#141414" stroke-width="1.2"/>
<path d="M45.5,498.5 H52.5" stroke="#141414" stroke-width="1.2"/>
<path d="M52.5,514.5 V521.5" stroke="#141414" stroke-width="1.2"/>
<path d="M90.5,514.5 V521.5" stroke="#141414" stroke-width="1.2"/>
<path d="M127.5,514.5 V521.5" stroke="#141414" stroke-width="1.2"/>
<path d="M164.5,514.5 V521.5" stroke="#141414" stroke-width="1.2"/>
<path d="M202.5,514.5 V521.5" stroke="#141414" stroke-width="1.2"/>
<path d="M213.5,399.5 H362.5 V514.5 H213.5 Z" fill="none" stroke="#141414" stroke-width="1.2"/>
<path d="M206.5,408.5 H213.5" stroke="#141414" stroke-width="1.2"/>
<path d="M206.5,438.5 H213.5" stroke="#141414" stroke-width="1.2"/>
<path d="M206.5,468.5 H213.5" stroke="#141414" stroke-width="1.2"/>
<path d="M206.5,498.5 H213.5" stroke="#141414" stroke-width="1.2"/>
<path d="M213.5,514.5 V521.5" stroke="#141414" stroke-width="1.2"/>
<path d="M250.5,514.5 V521.5" stroke="#141414" stroke-width="1.2"/>
<path d="M287.5,514.5 V521.5" stroke="#141414" stroke-width="1.2"/>
<path d="M325.5,514.5 V521.5" stroke="#141414" stroke-width="1.2"/>
<path d="M362.5,514.5 V521.5" stroke="#141414" stroke-width="1.2"/>
<path d="M373.5,399.5 H522.5 V514.5 H373.5 Z" fill="none" stroke="#141414" stroke-width="1.2"/>
<path d="M366.5,408.5 H373.5" stroke="#141414" stroke-width="1.2"/>
<path d="M366.5,438.5 H373.5" stroke="#141414" stroke-width="1.2"/>
<path d="M366.5,468.5 H373.5" stroke="#141414" stroke-width="1.2"/>
<path d="M366.5,498.5 H373.5" stroke="#141414" stroke-width="1.2"/>
<path d="M373.5,514.5 V521.5" stroke="#141414" stroke-width="1.2"/>
<path d="M410.5,514.5 V521.5" stroke="#141414" stroke-width="1.2"/>
<path d="M447.5,514.5 V521.5" stroke="#141414" stroke-width="1.2"/>
<path d="M485.5,514.5 V521.5" stroke="#141414" stroke-width="1.2"/>
<path d="M522.5,514.5 V521.5" stroke="#141414" stroke-width="1.2"/>
<path d="M535.5,399.5 H684.5 V514.5 H535.5 Z" fill="none" stroke="#141414" stroke-width="1.2"/>
<path d="M528.5,408.5 H535.5" stroke="#141414" stroke-width="1.2"/>
<path d="M528.5,438.5 H535.5" stroke="#141414" stroke-width="1.2"/>
<path d="M528.5,468.5 H535.5" stroke="#141414" stroke-width="1.2"/>
<path d="M528.5,498.5 H535.5" stroke="#141414" stroke-width="1.2"/>
<path d="M535.5,514.5 V521.5" stroke="#141414" stroke-width="1.2"/>
<path d="M572.5,514.5 V521.5" stroke="#141414" stroke-width="1.2"/>
<path d="M609.5,514.5 V521.5" stroke="#141414" stroke-width="1.2"/>
<path d="M646.5,514.5 V521.5" stroke="#141414" stroke-width="1.2"/>
<path d="M684.5,514.5 V521.5" stroke="#141414" stroke-width="1.2"/>
<path d="M52.5,525.5 H202.5 V640.5 H52.5 Z" fill="none" stroke="#141414" stroke-width="1.2"/>
<path d="M45.5,534.5 H52.5" stroke="#141414" stroke-width="1.2"/>
<path d="M45.5,564.5 H52.5" stroke="#141414" stroke-width="1.2"/>
<path d="M45.5,594.5 H52.5" stroke="#141414" stroke-width="1.2"/>
<path d="M45.5,624.5 H52.5" stroke="#141414" stroke-width="1.2"/>
<path d="M52.5,640.5 V647.5" stroke="#141414" stroke-width="1.2"/>
<path d="M90.5,640.5 V647.5" stroke="#141414" stroke-width="1.2"/>
<path d="M127.5,640.5 V647.5" stroke="#141414" stroke-width="1.2"/>
<path d="M164.5,640.5 V647.5" stroke="#141414" stroke-width="1.2"/>
<path d="M202.5,640.5 V647.5" stroke="#141414" stroke-width="1.2"/>
<path d="M213.5,525.5 H362.5 V640.5 H213.5 Z" fill="none" stroke="#141414" stroke-width="1.2"/>
<path d="M206.5,534.5 H213.5" stroke="#141414" stroke-width="1.2"/>
<path d="M206.5,564.5 H213.5" stroke="#141414" stroke-width="1.2"/>
<path d="M206.5,594.5 H213.5" stroke="#141414" stroke-width="1.2"/>
<path d="M206.5,624.5 H213.5" stroke="#141414" stroke-width="1.2"/>
<path d="M213.5,640.5 V647.5" stroke="#141414" stroke-width="1.2"/>
<path d="M250.5,640.5 V647.5" stroke="#141414" stroke-width="1.2"/>
<path d="M287.5,640.5 V647.5" stroke="#141414" stroke-width="1.2"/>
<path d="M325.5,640.5 V647.5" stroke="#141414" stroke-width="1.2"/>
<path d="M362.5,640.5 V647.5" stroke="#141414" stroke-width="1.2"/>
<path d="M373.5,525.5 H522.5 V640.5 H373.5 Z" fill="none" stroke="#141414" stroke-width="1.2"/>
<path d="M366.5,534.5 H373.5" stroke="#141414" stroke-width="1.2"/>
<path d="M366.5,564.5 H373.5" stroke="#141414" stroke-width="1.2"/>
<path d="M366.5,594.5 H373.5" stroke="#141414" stroke-width="1.2"/>
<path d="M366.5,624.5 H373.5" stroke="#141414" stroke-width="1.2"/>
<path d="M373.5,640.5 V647.5" stroke="#141414" stroke-width="1.2"/>
<path d="M410.5,640.5 V647.5" stroke="#141414" stroke-width="1.2"/>
<path d="M447.5,640.5 V647.5" stroke="#141414" stroke-width="1.2"/>
<path d="M485.5,640.5 V647.5" stroke="#141414" stroke-width="1.2"/>
<path d="M522.5,640.5 V647.5" stroke="#141414" stroke-width="1.2"/>
<path d="M535.5,525.5 H684.5 V640.5 H535.5 Z" fill="none" stroke="#141414" stroke-width="1.2"/>
<path d="M528.5,534.5 H535.5" stroke="#141414" stroke-width="1.2"/>
<path d="M528.5,564.5 H535.5" stroke="#141414" stroke-width="1.2"/>
<path d="M528.5,594.5 H535.5" stroke="#141414" stroke-width="1.2"/>
<path d="M528.5,624.5 H535.5" stroke="#141414" stroke-width="1.2"/>
<path d="M535.5,640.5 V647.5" stroke="#141414" stroke-width="1.2"/>
<path d="M572.5,640.5 V647.5" stroke="#141414" stroke-width="1.2"/>
<path d="M609.5,640.5 V647.5" stroke="#141414" stroke-width="1.2"/>
<path d="M646.5,640.5 V647.5" stroke="#141414" stroke-width="1.2"/>
<path d="M684.5,640.5 V647.5" stroke="#141414" stroke-width="1.2"/>
<path d="M52.5,652.5 H202.5 V767.5 H52.5 Z" fill="none" stroke="#141414" stroke-width="1.2"/>
<path d="M45.5,661.5 H52.5" stroke="#141414" stroke-width="1.2"/>
<path d="M45.5,691.5 H52.5" stroke="#141414" stroke-width="1.2"/>
<path d="M45.5,721.5 H52.5" stroke="#141414" stroke-width="1.2"/>
<path d="M45.5,751.5 H52.5" stroke="#141414" stroke-width="1.2"/>
<path d="M52.5,767.5 V774.5" stroke="#141414" stroke-width="1.2"/>
<path d="M90.5,767.5 V774.5" stroke="#141414" stroke-width="1.2"/>
<path d="M127.5,767.5 V774.5" stroke="#141414" stroke-width="1.2"/>
<path d="M164.5,767.5 V774.5" stroke="#141414" stroke-width="1.2"/>
<path d="M202.5,767.5 V774.5" stroke="#141414" stroke-width="1.2"/>
<path d="M213.5,652.5 H362.5 V767.5 H213.5 Z" fill="none" stroke="#141414" stroke-width="1.2"/>
<path d="M206.5,661.5 H213.5" stroke="#141414" stroke-width="1.2"/>
<path d="M206.5,691.5 H213.5" stroke="#141414" stroke-width="1.2"/>
<path d="M206.5,721.5 H213.5" stroke="#141414" stroke-width="1.2"/>
<path d="M206.5,751.5 H213.5" stroke="#141414" stroke-width="1.2"/>
<path d="M213.5,767.5 V774.5" stroke="#141414" stroke-width="1.2"/>
<path d="M250.5,767.5 V774.5" stroke="#141414" stroke-width="1.2"/>
<path d="M287.5,767.5 V774.5" stroke="#141414" stroke-width="1.2"/>
<path d="M325.5,767.5 V774.5" stroke="#141414" stroke-width="1.2"/>
<path d="M362.5,767.5 V774.5" stroke="#141414" stroke-width="1.2"/>
<path d="M373.5,652.5 H522.5 V767.5 H373.5 Z" fill="none" stroke="#141414" stroke-width="1.2"/>
<path d="M366.5,661.5 H373.5" stroke="#141414" stroke-width="1.2"/>
<path d="M366.5,691.5 H373.5" stroke="#141414" stroke-width="1.2"/>
<path d="M366.5,721.5 H373.5" stroke="#141414" stroke-width="1.2"/>
<path d="M366.5,751.5 H373.5" stroke="#141414" stroke-width="1.2"/>
<path d="M373.5,767.5 V774.5" stroke="#141414" stroke-width="1.2"/>
<path d="M410.5,767.5 V774.5" stroke="#141414" stroke-width="1.2"/>
<path d="M447.5,767.5 V774.5" stroke="#141414" stroke-width="1.2"/>
<path d="M485.5,767.5 V774.5" stroke="#141414" stroke-width="1.2"/>
<path d="M522.5,767.5 V774.5" stroke="#141414" stroke-width="1.2"/>
<path d="M535.5,652.5 H684.5 V767.5 H535.5 Z" fill="none" stroke="#141414" stroke-width="1.2"/>
<path d="M528.5,661.5 H535.5" stroke="#141414" stroke-width="1.2"/>
<path d="M528.5,691.5 H535.5" stroke="#141414" stroke-width="1.2"/>
<path d="M528.5,721.5 H535.5" stroke="#141414" stroke-width="1.2"/>
<path d="M528.5,751.5 H535.5" stroke="#141414" stroke-width="1.2"/>
<path d="M535.5,767.5 V774.5" stroke="#141414" stroke-width="1.2"/>
<path d="M572.5,767.5 V774.5" stroke="#141414" stroke-width="1.2"/>
<path d="M609.5,767.5 V774.5" stroke="#141414" stroke-width="1.2"/>
<path d="M646.5,767.5 V774.5" stroke="#141414" stroke-width="1.2"/>
<path d="M684.5,767.5 V774.5" stroke="#141414" stroke-width="1.2"/>
<line x1="62" y1="155.5" x2="201.25" y2="155.5" stroke="#c4c4ff" stroke-width="1" stroke-dasharray="1 1"/>
<line x1="214" y1="155.5" x2="361.7" y2="155.5" stroke="#c4c4ff" stroke-width="1" stroke-dasharray="1 1"/>
<line x1="374" y1="155.5" x2="521.8" y2="155.5" stroke="#c4c4ff" stroke-width="1" stroke-dasharray="1 1"/>
<line x1="536" y1="155.5" x2="683.56" y2="155.5" stroke="#c4c4ff" stroke-width="1" stroke-dasharray="1 1"/>
<line x1="62" y1="408.5" x2="201.25" y2="408.5" stroke="#c4c4ff" stroke-width="1" stroke-dasharray="1 1"/>
<line x1="214" y1="408.5" x2="361.7" y2="408.5" stroke="#c4c4ff" stroke-width="1" stroke-dasharray="1 1"/>
<line x1="374" y1="408.5" x2="521.8" y2="408.5" stroke="#c4c4ff" stroke-width="1" stroke-dasharray="1 1"/>
<line x1="536" y1="408.5" x2="683.56" y2="408.5" stroke="#c4c4ff" stroke-width="1" stroke-dasharray="1 1"/>
<line x1="62" y1="661.5" x2="201.25" y2="661.5" stroke="#c4c4ff" stroke-width="1" stroke-dasharray="1 1"/>
<line x1="214" y1="661.5" x2="361.7" y2="661.5" stroke="#c4c4ff" stroke-width="1" stroke-dasharray="1 1"/>
<line x1="374" y1="661.5" x2="521.8" y2="661.5" stroke="#c4c4ff" stroke-width="1" stroke-dasharray="1 1"/>
<line x1="536" y1="661.5" x2="683.56" y2="661.5" stroke="#c4c4ff" stroke-width="1" stroke-dasharray="1 1"/>
<path d="M114.05,424.66 L131.15,445.46 L97.65,504.96" fill="none" stroke="#35b035" stroke-width="2.2" stroke-dasharray="3.8 1.9"/>
<path d="M106.35,443.96 L131.15,473.86" fill="none" stroke="#5a5aff" stroke-width="2.2" stroke-dasharray="3.8 1.9"/>
<path d="M271.2,424.66 L288.1,445.46 L255.9,504.96" fill="none" stroke="#35b035" stroke-width="2.2" stroke-dasharray="3.8 1.9"/>
<path d="M263.6,443.96 L288.1,473.46" fill="none" stroke="#5a5aff" stroke-width="2.2" stroke-dasharray="3.8 1.9"/>
<path d="M430.3,424.66 L446.7,445.46 L414.5,504.96" fill="none" stroke="#35b035" stroke-width="2.2" stroke-dasharray="3.8 1.9"/>
<path d="M422.6,443.96 L446.7,472.86" fill="none" stroke="#5a5aff" stroke-width="2.2" stroke-dasharray="3.8 1.9"/>
<path d="M592.06,424.66 L609.06,445.46 L576.66,504.96" fill="none" stroke="#35b035" stroke-width="2.2" stroke-dasharray="3.8 1.9"/>
<path d="M584.36,443.96 L608.46,472.86" fill="none" stroke="#5a5aff" stroke-width="2.2" stroke-dasharray="3.8 1.9"/>
<path d="M588.66,411.46 L608.46,478.46" fill="none" stroke="#ff14d2" stroke-width="2.2" stroke-dasharray="3.8 1.9"/>
<path d="M607.36,485.96 L597.46,514.46" fill="none" stroke="#ff14d2" stroke-width="2.2" stroke-dasharray="3.8 1.9"/>
<path d="M589.06,156.96 L608.56,230.46" fill="none" stroke="#ff14d2" stroke-width="2.2" stroke-dasharray="3.8 1.9"/>
<path d="M608.56,230.46 L598.06,261.46" fill="none" stroke="#ff14d2" stroke-width="2.2" stroke-dasharray="3.8 1.9"/>
<path transform="translate(52.75,652.46)" d="M16.2,114 L37.2,46.3 C41.940000000000005,30.845 48,18.2 53,18.2 C58,18.2 65.6,30.845 71,46.3 L74.5,50.5 L50.7,85.8" fill="none" stroke="#5a5aff" stroke-width="2.2" stroke-dasharray="3.8 1.9"/>
<path transform="translate(52.75,652.46)" d="M74,47.4 C66,48.4 62.6,53.2 57.6,59.2 S43.7,79.5 29.5,114.5" fill="none" stroke="#35b035" stroke-width="2.2" stroke-dasharray="3.8 1.9"/>
<path transform="translate(213.2,652.46)" d="M16.6,114 L38.5,46.3 C43.18,30.515 49.1,17.6 54.1,17.6 C59.1,17.6 66.63,30.515 72,46.3 L75.5,50.5 L51.5,86.5" fill="none" stroke="#5a5aff" stroke-width="2.2" stroke-dasharray="3.8 1.9"/>
<path transform="translate(213.2,652.46)" d="M74.5,47.4 C66.5,48.4 64.3,52 59.3,58 S44.5,78.5 30.2,114.5" fill="none" stroke="#35b035" stroke-width="2.2" stroke-dasharray="3.8 1.9"/>
<path transform="translate(373.3,652.46)" d="M13.9,114 L35.5,46.3 C40.54,30.845 47.3,18.2 52.3,18.2 C57.3,18.2 64.34,30.845 69.5,46.3 L72,53.2 L49,86" fill="none" stroke="#5a5aff" stroke-width="2.2" stroke-dasharray="3.8 1.9"/>
<path transform="translate(373.3,652.46)" d="M70.9,47.7 C62.900000000000006,48.7 61,53 56,59 S42,80 28.2,114.5" fill="none" stroke="#35b035" stroke-width="2.2" stroke-dasharray="3.8 1.9"/>
<path transform="translate(535.06,652.46)" d="M14.1,114 L36,46.3 C40.95,31.064999999999998 47.5,18.6 52.5,18.6 C57.5,18.6 64.82,30.659999999999997 70.1,45.4 L74.5,50 L49.8,85.4" fill="none" stroke="#5a5aff" stroke-width="2.2" stroke-dasharray="3.8 1.9"/>
<path transform="translate(535.06,652.46)" d="M72.8,47.6 C64.8,48.6 61.9,53.1 56.9,59.1 S46.8,71.9 28.5,114.5" fill="none" stroke="#35b035" stroke-width="2.2" stroke-dasharray="3.8 1.9"/>
<path d="M588.66,669.56 L596.36,704.96 L607.36,737.86 L599.66,767.46" fill="none" stroke="#ff14d2" stroke-width="2.2" stroke-dasharray="3.8 1.9"/>
<g opacity="0.999">
<line x1="658.86" y1="63.36" x2="634.04" y2="65.72" stroke="#e8262d" stroke-width="1.2"/><path d="M629.46,66.16 L634.76,62.74 L633.84,65.74 L635.31,68.52 Z" fill="#e8262d"/>
<text x="661.86" y="66.86" font-size="14" style="font-style:italic;font-weight:bold" fill="#e8262d">δ</text>
<line x1="658.46" y1="306.8" x2="634.14" y2="308.9" stroke="#e8262d" stroke-width="1.2"/><path d="M629.56,309.3 L634.89,305.93 L633.94,308.92 L635.39,311.71 Z" fill="#e8262d"/>
<text x="662.16" y="310" font-size="14" style="font-style:italic;font-weight:bold" fill="#e8262d">δ</text>
<line x1="658.76" y1="589.6" x2="625.54" y2="592.85" stroke="#e8262d" stroke-width="1.2"/><path d="M620.96,593.3 L626.25,589.87 L625.34,592.87 L626.82,595.64 Z" fill="#e8262d"/>
<text x="661.96" y="593" font-size="14" style="font-style:italic;font-weight:bold" fill="#e8262d">δ</text>
<line x1="167.6" y1="330.2" x2="155.9" y2="330.2" stroke="#e8262d" stroke-width="1.2"/><path d="M151.3,330.2 L156.9,327.3 L155.7,330.2 L156.9,333.1 Z" fill="#e8262d"/>
<text x="170.15" y="333.8" font-size="13" style="font-style:italic;font-weight:bold" fill="#e8262d">ε</text>
<line x1="168.9" y1="355.5" x2="157.4" y2="355.5" stroke="#e8262d" stroke-width="1.2"/><path d="M152.8,355.5 L158.4,352.6 L157.2,355.5 L158.4,358.4 Z" fill="#e8262d"/>
<text x="171.25" y="358.9" font-size="13" style="font-style:italic;font-weight:bold" fill="#e8262d">ζ</text>
<line x1="127.5" y1="533.8" x2="135.77" y2="542.47" stroke="#e8262d" stroke-width="1.2"/><path d="M138.95,545.8 L132.99,543.75 L135.91,542.62 L137.18,539.75 Z" fill="#e8262d"/>
<text x="118.35" y="535.8" font-size="13" style="font-style:italic;font-weight:bold" fill="#e8262d">α</text>
<line x1="167.95" y1="592.3" x2="156.69" y2="595.38" stroke="#e8262d" stroke-width="1.2"/><path d="M152.25,596.6 L156.89,592.32 L156.49,595.44 L158.42,597.92 Z" fill="#e8262d"/>
<text x="170.25" y="594.8" font-size="13" style="font-style:italic;font-weight:bold" fill="#e8262d">β</text>
<line x1="139.5" y1="621.2" x2="141.58" y2="613.64" stroke="#e8262d" stroke-width="1.2"/><path d="M142.8,609.2 L144.11,615.37 L141.63,613.44 L138.52,613.83 Z" fill="#e8262d"/>
<text x="134.95" y="628.6" font-size="13" style="font-style:italic;font-weight:bold" fill="#e8262d">γ</text>
<line x1="98.7" y1="601.5" x2="116.1" y2="601.5" stroke="#111" stroke-width="1.1"/><path d="M120.4,601.5 L115.1,604.5 L116.3,601.5 L115.1,598.5 Z" fill="#111"/>
<line x1="260.1" y1="601.2" x2="277.7" y2="601.2" stroke="#111" stroke-width="1.1"/><path d="M282,601.2 L276.7,604.2 L277.9,601.2 L276.7,598.2 Z" fill="#111"/>
</g>
<g opacity="0.999">
<text x="133" y="12.7" font-size="17" font-weight="bold" text-anchor="middle" fill="#000">7 eV</text>
<text x="285.9" y="12.7" font-size="17" font-weight="bold" text-anchor="middle" fill="#000">6.7 eV</text>
<text x="446.6" y="12.7" font-size="17" font-weight="bold" text-anchor="middle" fill="#000">6.45 eV</text>
<text x="611.3" y="12.7" font-size="17" font-weight="bold" text-anchor="middle" fill="#000">6.2 eV</text>
<text x="10.2" y="23.1" font-size="15" font-weight="bold" fill="#000">a</text>
<text x="45.9" y="31.41" font-size="13" text-anchor="end" fill="#000">0.0</text>
<text x="45.9" y="121.95" font-size="13" text-anchor="end" fill="#000">0.3</text>
<text x="10.2" y="150.1" font-size="15" font-weight="bold" fill="#000">b</text>
<text x="45.9" y="158.51" font-size="13" text-anchor="end" fill="#000">0.0</text>
<text x="45.9" y="249.05" font-size="13" text-anchor="end" fill="#000">0.3</text>
<text x="10.2" y="276.2" font-size="15" font-weight="bold" fill="#000">c</text>
<text x="45.9" y="285.15" font-size="13" text-anchor="end" fill="#000">0.0</text>
<text x="45.9" y="375.69" font-size="13" text-anchor="end" fill="#000">0.3</text>
<text x="10.2" y="403.3" font-size="15" font-weight="bold" fill="#000">d</text>
<text x="45.9" y="411.51" font-size="13" text-anchor="end" fill="#000">0.0</text>
<text x="45.9" y="502.05" font-size="13" text-anchor="end" fill="#000">0.3</text>
<text x="10.2" y="529.1" font-size="15" font-weight="bold" fill="#000">e</text>
<text x="45.9" y="537.65" font-size="13" text-anchor="end" fill="#000">0.0</text>
<text x="45.9" y="628.19" font-size="13" text-anchor="end" fill="#000">0.3</text>
<text x="10.2" y="655.5" font-size="15" font-weight="bold" fill="#000">f</text>
<text x="45.9" y="664.51" font-size="13" text-anchor="end" fill="#000">0.0</text>
<text x="45.9" y="755.05" font-size="13" text-anchor="end" fill="#000">0.3</text>
<text x="90.08" y="786" font-size="13" text-anchor="middle" fill="#000">-0.1</text>
<text x="127.4" y="786" font-size="13" text-anchor="middle" fill="#000">0.0</text>
<text x="164.73" y="786" font-size="13" text-anchor="middle" fill="#000">0.1</text>
<text x="250.52" y="786" font-size="13" text-anchor="middle" fill="#000">-0.1</text>
<text x="287.85" y="786" font-size="13" text-anchor="middle" fill="#000">0.0</text>
<text x="325.18" y="786" font-size="13" text-anchor="middle" fill="#000">0.1</text>
<text x="410.62" y="786" font-size="13" text-anchor="middle" fill="#000">-0.1</text>
<text x="447.95" y="786" font-size="13" text-anchor="middle" fill="#000">0.0</text>
<text x="485.28" y="786" font-size="13" text-anchor="middle" fill="#000">0.1</text>
<text x="572.38" y="786" font-size="13" text-anchor="middle" fill="#000">-0.1</text>
<text x="609.71" y="786" font-size="13" text-anchor="middle" fill="#000">0.0</text>
<text x="647.03" y="786" font-size="13" text-anchor="middle" fill="#000">0.1</text>
<text x="372" y="798.5" font-size="13" text-anchor="middle" fill="#000">Momentum (π/a)</text>
<text transform="translate(9,332) rotate(-90)" font-size="13.6" text-anchor="middle" fill="#000">Binding energy</text>
<text transform="translate(23.8,332.4) rotate(-90)" font-size="13.6" text-anchor="middle" fill="#000">(eV)</text>
<text x="57.65" y="33.76" font-size="13" font-weight="bold" fill="#000">PM</text>
<text x="57.65" y="50.26" font-size="13" font-weight="bold" fill="#000">26K</text>
<text x="57.65" y="287.5" font-size="13" font-weight="bold" fill="#000">AFM1A</text>
<text x="57.65" y="304" font-size="13" font-weight="bold" fill="#000">21K</text>
<text x="57.65" y="540" font-size="13" font-weight="bold" fill="#000">AFM1B</text>
<text x="57.65" y="556.5" font-size="13" font-weight="bold" fill="#000">14K</text>
</g>
</svg>
</body></html>
